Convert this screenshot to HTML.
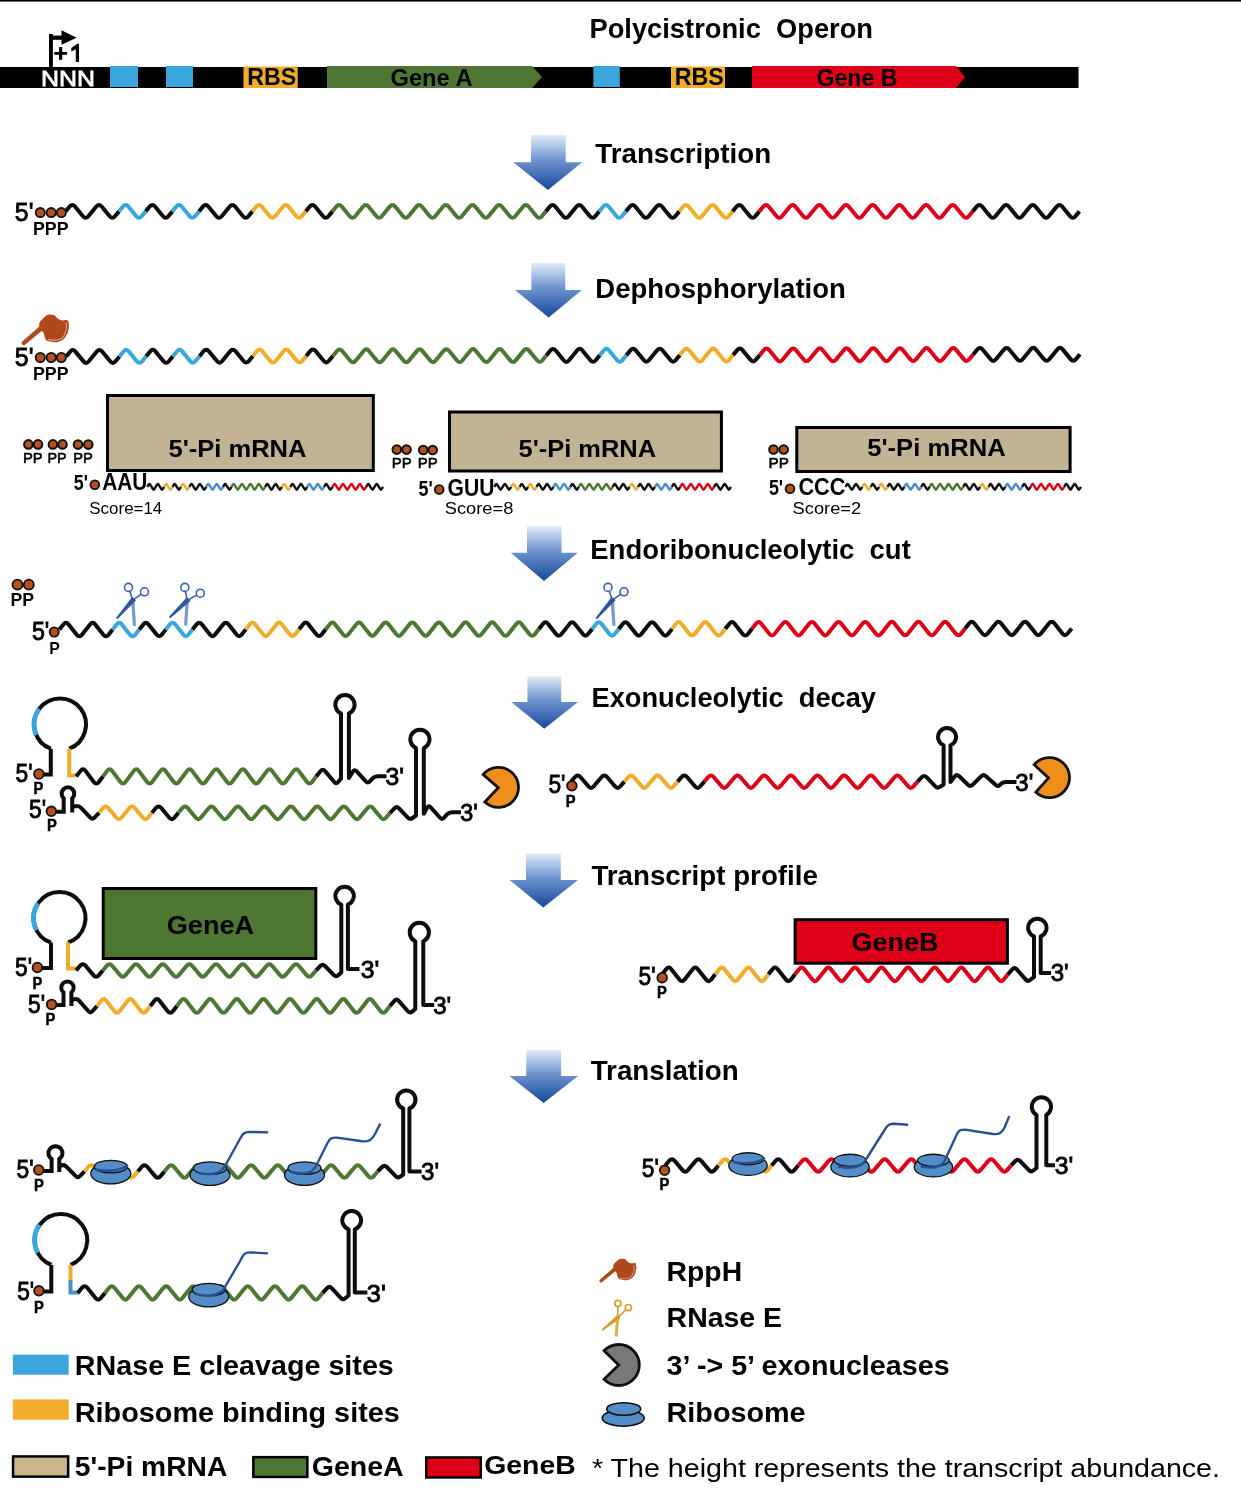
<!DOCTYPE html><html><head><meta charset="utf-8"><style>html,body{margin:0;padding:0;background:#fff;width:1241px;height:1500px;overflow:hidden;}svg{display:block;will-change:transform;}</style></head><body><svg width="1241" height="1500" viewBox="0 0 1241 1500"><defs><linearGradient id="ag" x1="0" y1="0" x2="0" y2="1"><stop offset="0" stop-color="#e2ecf9"/><stop offset="0.45" stop-color="#6f95cf"/><stop offset="1" stop-color="#15489a"/></linearGradient></defs><rect x="0" y="0" width="1241" height="1.6" fill="#000"/>
<text x="589.5" y="38.4" font-family='"Liberation Sans", sans-serif' font-size="27" font-weight="bold" fill="#000" textLength="283.5" lengthAdjust="spacingAndGlyphs" >Polycistronic&#160;&#160;Operon</text>
<rect x="0" y="67" width="1078.5" height="21" fill="#000" stroke="none" stroke-width="0"/>
<rect x="110" y="66" width="28" height="21" fill="#3aa6dc" stroke="none" stroke-width="0"/>
<rect x="166" y="66" width="27" height="21" fill="#3aa6dc" stroke="none" stroke-width="0"/>
<rect x="593.4" y="66" width="26.4" height="21" fill="#3aa6dc" stroke="none" stroke-width="0"/>
<rect x="243.5" y="66.5" width="54.2" height="21.5" fill="#f1ac2b" stroke="none" stroke-width="0"/>
<rect x="671" y="66.5" width="54" height="21.5" fill="#f1ac2b" stroke="none" stroke-width="0"/>
<path d="M327,66 L532,66 L542,77 L532,88 L327,88 Z" fill="#4e7733"/>
<path d="M752,66 L956,66 L965,77 L956,88 L752,88 Z" fill="#dd0017"/>
<text x="247.3" y="85.3" font-family='"Liberation Sans", sans-serif' font-size="23" font-weight="bold" fill="#000" textLength="49" lengthAdjust="spacingAndGlyphs" >RBS</text>
<text x="674.8" y="85.3" font-family='"Liberation Sans", sans-serif' font-size="23" font-weight="bold" fill="#000" textLength="49" lengthAdjust="spacingAndGlyphs" >RBS</text>
<text x="390.5" y="85.5" font-family='"Liberation Sans", sans-serif' font-size="23" font-weight="bold" fill="#000" textLength="82" lengthAdjust="spacingAndGlyphs" >Gene A</text>
<text x="816.5" y="85.5" font-family='"Liberation Sans", sans-serif' font-size="23" font-weight="bold" fill="#000" textLength="81" lengthAdjust="spacingAndGlyphs" >Gene B</text>
<text x="41" y="85.8" font-family='"Liberation Sans", sans-serif' font-size="22" font-weight="normal" fill="#fff" textLength="54" lengthAdjust="spacingAndGlyphs" stroke="#fff" stroke-width="0.8">NNN</text>
<rect x="49" y="34" width="3.9" height="33.5" fill="#000" stroke="none" stroke-width="0"/>
<rect x="49" y="35.6" width="13.5" height="4.2" fill="#000" stroke="none" stroke-width="0"/>
<path d="M61.5,30.3 L76.6,37.8 L61.5,44.8 Z" fill="#000"/>
<path d="M54.2,52.1 H59 V46.9 H62.3 V52.1 H67.1 V54.7 H62.3 V59.8 H59 V54.7 H54.2 Z" fill="#000"/>
<path d="M71.3,47.9 L77.4,43.7 L79,43.7 L79,62.1 L75.8,62.1 L75.8,49.2 L71.3,51.5 Z" fill="#000"/>
<path d="M531,135 L565.7,135 L565.7,162.3 L582.2,162.3 L547.9,190 L513.3,162.3 L531,162.3 Z" fill="url(#ag)"/>
<path d="M531.3,263 L565.3,263 L565.3,290 L581.8,290 L548.7,317.4 L515,290 L531.3,290 Z" fill="url(#ag)"/>
<path d="M527,526 L561.6,526 L561.6,552.8 L577.8,552.8 L544,581 L510.8,552.8 L527,552.8 Z" fill="url(#ag)"/>
<path d="M527.4,676.3 L561.2,676.3 L561.2,702 L578,702 L544.2,728.8 L511.3,702 L527.4,702 Z" fill="url(#ag)"/>
<path d="M526,853.2 L560.8,853.2 L560.8,880 L578,880 L543.3,907.5 L509.6,880 L526,880 Z" fill="url(#ag)"/>
<path d="M526.2,1049.8 L561.2,1049.8 L561.2,1076 L578.1,1076 L543.6,1102.9 L509.4,1076 L526.2,1076 Z" fill="url(#ag)"/>
<text x="595.2" y="163.4" font-family='"Liberation Sans", sans-serif' font-size="27.5" font-weight="bold" fill="#000" textLength="176" lengthAdjust="spacingAndGlyphs" >Transcription</text>
<text x="595.3" y="297.6" font-family='"Liberation Sans", sans-serif' font-size="27.5" font-weight="bold" fill="#000" textLength="250.5" lengthAdjust="spacingAndGlyphs" >Dephosphorylation</text>
<text x="590.3" y="559" font-family='"Liberation Sans", sans-serif' font-size="27.5" font-weight="bold" fill="#000" textLength="320.5" lengthAdjust="spacingAndGlyphs" >Endoribonucleolytic&#160;&#160;cut</text>
<text x="591.5" y="706.8" font-family='"Liberation Sans", sans-serif' font-size="27.5" font-weight="bold" fill="#000" textLength="284.5" lengthAdjust="spacingAndGlyphs" >Exonucleolytic&#160;&#160;decay</text>
<text x="591.4" y="884.6" font-family='"Liberation Sans", sans-serif' font-size="27.5" font-weight="bold" fill="#000" textLength="226.5" lengthAdjust="spacingAndGlyphs" >Transcript profile</text>
<text x="590.7" y="1080.3" font-family='"Liberation Sans", sans-serif' font-size="27.5" font-weight="bold" fill="#000" textLength="148" lengthAdjust="spacingAndGlyphs" >Translation</text>
<path d="M65.63,211.4 L69.62,206.59 Q72.3,203.36 74.98,206.59 L82.96,216.21 Q85.64,219.44 88.32,216.21 L96.3,206.59 Q98.98,203.36 101.66,206.59 L109.64,216.21 Q112.32,219.44 115,216.21 L118.99,211.4" fill="none" stroke="#0d0d0d" stroke-width="4" stroke-linecap="butt" stroke-linejoin="round"/>
<path d="M118.99,211.4 L122.98,206.59 Q125.66,203.36 128.34,206.59 L136.32,216.21 Q139,219.44 141.68,216.21 L145.67,211.4" fill="none" stroke="#3aa6dc" stroke-width="4" stroke-linecap="butt" stroke-linejoin="round"/>
<path d="M145.67,211.4 L149.66,206.59 Q152.34,203.36 155.02,206.59 L163,216.21 Q165.68,219.44 168.36,216.21 L172.35,211.4" fill="none" stroke="#0d0d0d" stroke-width="4" stroke-linecap="butt" stroke-linejoin="round"/>
<path d="M172.35,211.4 L176.34,206.59 Q179.02,203.36 181.7,206.59 L189.68,216.21 Q192.36,219.44 195.04,216.21 L199.03,211.4" fill="none" stroke="#3aa6dc" stroke-width="4" stroke-linecap="butt" stroke-linejoin="round"/>
<path d="M199.03,211.4 L203.02,206.59 Q205.7,203.36 208.38,206.59 L216.36,216.21 Q219.04,219.44 221.72,216.21 L229.7,206.59 Q232.38,203.36 235.06,206.59 L243.04,216.21 Q245.72,219.44 248.4,216.21 L252.39,211.4" fill="none" stroke="#0d0d0d" stroke-width="4" stroke-linecap="butt" stroke-linejoin="round"/>
<path d="M252.39,211.4 L256.38,206.59 Q259.06,203.36 261.74,206.59 L269.72,216.21 Q272.4,219.44 275.08,216.21 L283.06,206.59 Q285.74,203.36 288.42,206.59 L296.4,216.21 Q299.08,219.44 301.76,216.21 L305.75,211.4" fill="none" stroke="#f1ac2b" stroke-width="4" stroke-linecap="butt" stroke-linejoin="round"/>
<path d="M305.75,211.4 L309.74,206.59 Q312.42,203.36 315.1,206.59 L323.08,216.21 Q325.76,219.44 328.44,216.21 L332.43,211.4" fill="none" stroke="#0d0d0d" stroke-width="4" stroke-linecap="butt" stroke-linejoin="round"/>
<path d="M332.43,211.4 L336.42,206.59 Q339.1,203.36 341.78,206.59 L349.76,216.21 Q352.44,219.44 355.12,216.21 L363.1,206.59 Q365.78,203.36 368.46,206.59 L376.44,216.21 Q379.12,219.44 381.8,216.21 L389.78,206.59 Q392.46,203.36 395.14,206.59 L403.12,216.21 Q405.8,219.44 408.48,216.21 L416.46,206.59 Q419.14,203.36 421.82,206.59 L429.8,216.21 Q432.48,219.44 435.16,216.21 L443.14,206.59 Q445.82,203.36 448.5,206.59 L456.48,216.21 Q459.16,219.44 461.84,216.21 L469.82,206.59 Q472.5,203.36 475.18,206.59 L483.16,216.21 Q485.84,219.44 488.52,216.21 L496.5,206.59 Q499.18,203.36 501.86,206.59 L509.84,216.21 Q512.52,219.44 515.2,216.21 L523.18,206.59 Q525.86,203.36 528.54,206.59 L536.52,216.21 Q539.2,219.44 541.88,216.21 L545.87,211.4" fill="none" stroke="#4e7733" stroke-width="4" stroke-linecap="butt" stroke-linejoin="round"/>
<path d="M545.87,211.4 L549.86,206.59 Q552.54,203.36 555.22,206.59 L563.2,216.21 Q565.88,219.44 568.56,216.21 L576.54,206.59 Q579.22,203.36 581.9,206.59 L589.88,216.21 Q592.56,219.44 595.24,216.21 L599.23,211.4" fill="none" stroke="#0d0d0d" stroke-width="4" stroke-linecap="butt" stroke-linejoin="round"/>
<path d="M599.23,211.4 L603.22,206.59 Q605.9,203.36 608.58,206.59 L616.56,216.21 Q619.24,219.44 621.92,216.21 L625.91,211.4" fill="none" stroke="#3aa6dc" stroke-width="4" stroke-linecap="butt" stroke-linejoin="round"/>
<path d="M625.91,211.4 L629.9,206.59 Q632.58,203.36 635.26,206.59 L643.24,216.21 Q645.92,219.44 648.6,216.21 L656.58,206.59 Q659.26,203.36 661.94,206.59 L669.92,216.21 Q672.6,219.44 675.28,216.21 L679.27,211.4" fill="none" stroke="#0d0d0d" stroke-width="4" stroke-linecap="butt" stroke-linejoin="round"/>
<path d="M679.27,211.4 L683.26,206.59 Q685.94,203.36 688.62,206.59 L696.6,216.21 Q699.28,219.44 701.96,216.21 L709.94,206.59 Q712.62,203.36 715.3,206.59 L723.28,216.21 Q725.96,219.44 728.64,216.21 L732.63,211.4" fill="none" stroke="#f1ac2b" stroke-width="4" stroke-linecap="butt" stroke-linejoin="round"/>
<path d="M732.63,211.4 L736.62,206.59 Q739.3,203.36 741.98,206.59 L749.96,216.21 Q752.64,219.44 755.32,216.21 L759.31,211.4" fill="none" stroke="#0d0d0d" stroke-width="4" stroke-linecap="butt" stroke-linejoin="round"/>
<path d="M759.31,211.4 L763.3,206.59 Q765.98,203.36 768.66,206.59 L776.64,216.21 Q779.32,219.44 782,216.21 L789.98,206.59 Q792.66,203.36 795.34,206.59 L803.32,216.21 Q806,219.44 808.68,216.21 L816.66,206.59 Q819.34,203.36 822.02,206.59 L830,216.21 Q832.68,219.44 835.36,216.21 L843.34,206.59 Q846.02,203.36 848.7,206.59 L856.68,216.21 Q859.36,219.44 862.04,216.21 L870.02,206.59 Q872.7,203.36 875.38,206.59 L883.36,216.21 Q886.04,219.44 888.72,216.21 L896.7,206.59 Q899.38,203.36 902.06,206.59 L910.04,216.21 Q912.72,219.44 915.4,216.21 L923.38,206.59 Q926.06,203.36 928.74,206.59 L936.72,216.21 Q939.4,219.44 942.08,216.21 L950.06,206.59 Q952.74,203.36 955.42,206.59 L963.4,216.21 Q966.08,219.44 968.76,216.21 L972.75,211.4" fill="none" stroke="#dd0017" stroke-width="4" stroke-linecap="butt" stroke-linejoin="round"/>
<path d="M972.75,211.4 L976.74,206.59 Q979.42,203.36 982.1,206.59 L990.08,216.21 Q992.76,219.44 995.44,216.21 L1003.42,206.59 Q1006.1,203.36 1008.78,206.59 L1016.76,216.21 Q1019.44,219.44 1022.12,216.21 L1030.1,206.59 Q1032.78,203.36 1035.46,206.59 L1043.44,216.21 Q1046.12,219.44 1048.8,216.21 L1056.78,206.59 Q1059.46,203.36 1062.14,206.59 L1070.12,216.21 Q1072.8,219.44 1075.48,216.21 L1079.47,211.4" fill="none" stroke="#0d0d0d" stroke-width="4" stroke-linecap="butt" stroke-linejoin="round"/>
<text x="14.8" y="220.7" font-family='"Liberation Sans", sans-serif' font-size="25.5" font-weight="normal" fill="#000" textLength="18.6" lengthAdjust="spacingAndGlyphs" stroke="#000" stroke-width="0.85">5'</text>
<text x="33" y="235.1" font-family='"Liberation Sans", sans-serif' font-size="17.5" font-weight="bold" fill="#000" textLength="35.5" lengthAdjust="spacingAndGlyphs" >PPP</text>
<g transform="matrix(1,-0.00227,0,1,0,1.48)">
<path d="M66.13,355.2 L70.13,350.33 Q72.8,347.09 75.47,350.33 L83.47,360.07 Q86.14,363.31 88.81,360.07 L96.81,350.33 Q99.48,347.09 102.15,350.33 L110.15,360.07 Q112.82,363.31 115.49,360.07 L119.49,355.2" fill="none" stroke="#0d0d0d" stroke-width="4" stroke-linecap="butt" stroke-linejoin="round"/>
<path d="M119.49,355.2 L123.49,350.33 Q126.16,347.09 128.83,350.33 L136.83,360.07 Q139.5,363.31 142.17,360.07 L146.17,355.2" fill="none" stroke="#3aa6dc" stroke-width="4" stroke-linecap="butt" stroke-linejoin="round"/>
<path d="M146.17,355.2 L150.17,350.33 Q152.84,347.09 155.51,350.33 L163.51,360.07 Q166.18,363.31 168.85,360.07 L172.85,355.2" fill="none" stroke="#0d0d0d" stroke-width="4" stroke-linecap="butt" stroke-linejoin="round"/>
<path d="M172.85,355.2 L176.85,350.33 Q179.52,347.09 182.19,350.33 L190.19,360.07 Q192.86,363.31 195.53,360.07 L199.53,355.2" fill="none" stroke="#3aa6dc" stroke-width="4" stroke-linecap="butt" stroke-linejoin="round"/>
<path d="M199.53,355.2 L203.53,350.33 Q206.2,347.09 208.87,350.33 L216.87,360.07 Q219.54,363.31 222.21,360.07 L230.21,350.33 Q232.88,347.09 235.55,350.33 L243.55,360.07 Q246.22,363.31 248.89,360.07 L252.89,355.2" fill="none" stroke="#0d0d0d" stroke-width="4" stroke-linecap="butt" stroke-linejoin="round"/>
<path d="M252.89,355.2 L256.89,350.33 Q259.56,347.09 262.23,350.33 L270.23,360.07 Q272.9,363.31 275.57,360.07 L283.57,350.33 Q286.24,347.09 288.91,350.33 L296.91,360.07 Q299.58,363.31 302.25,360.07 L306.25,355.2" fill="none" stroke="#f1ac2b" stroke-width="4" stroke-linecap="butt" stroke-linejoin="round"/>
<path d="M306.25,355.2 L310.25,350.33 Q312.92,347.09 315.59,350.33 L323.59,360.07 Q326.26,363.31 328.93,360.07 L332.93,355.2" fill="none" stroke="#0d0d0d" stroke-width="4" stroke-linecap="butt" stroke-linejoin="round"/>
<path d="M332.93,355.2 L336.93,350.33 Q339.6,347.09 342.27,350.33 L350.27,360.07 Q352.94,363.31 355.61,360.07 L363.61,350.33 Q366.28,347.09 368.95,350.33 L376.95,360.07 Q379.62,363.31 382.29,360.07 L390.29,350.33 Q392.96,347.09 395.63,350.33 L403.63,360.07 Q406.3,363.31 408.97,360.07 L416.97,350.33 Q419.64,347.09 422.31,350.33 L430.31,360.07 Q432.98,363.31 435.65,360.07 L443.65,350.33 Q446.32,347.09 448.99,350.33 L456.99,360.07 Q459.66,363.31 462.33,360.07 L470.33,350.33 Q473,347.09 475.67,350.33 L483.67,360.07 Q486.34,363.31 489.01,360.07 L497.01,350.33 Q499.68,347.09 502.35,350.33 L510.35,360.07 Q513.02,363.31 515.69,360.07 L523.69,350.33 Q526.36,347.09 529.03,350.33 L537.03,360.07 Q539.7,363.31 542.37,360.07 L546.37,355.2" fill="none" stroke="#4e7733" stroke-width="4" stroke-linecap="butt" stroke-linejoin="round"/>
<path d="M546.37,355.2 L550.37,350.33 Q553.04,347.09 555.71,350.33 L563.71,360.07 Q566.38,363.31 569.05,360.07 L577.05,350.33 Q579.72,347.09 582.39,350.33 L590.39,360.07 Q593.06,363.31 595.73,360.07 L599.73,355.2" fill="none" stroke="#0d0d0d" stroke-width="4" stroke-linecap="butt" stroke-linejoin="round"/>
<path d="M599.73,355.2 L603.73,350.33 Q606.4,347.09 609.07,350.33 L617.07,360.07 Q619.74,363.31 622.41,360.07 L626.41,355.2" fill="none" stroke="#3aa6dc" stroke-width="4" stroke-linecap="butt" stroke-linejoin="round"/>
<path d="M626.41,355.2 L630.41,350.33 Q633.08,347.09 635.75,350.33 L643.75,360.07 Q646.42,363.31 649.09,360.07 L657.09,350.33 Q659.76,347.09 662.43,350.33 L670.43,360.07 Q673.1,363.31 675.77,360.07 L679.77,355.2" fill="none" stroke="#0d0d0d" stroke-width="4" stroke-linecap="butt" stroke-linejoin="round"/>
<path d="M679.77,355.2 L683.77,350.33 Q686.44,347.09 689.11,350.33 L697.11,360.07 Q699.78,363.31 702.45,360.07 L710.45,350.33 Q713.12,347.09 715.79,350.33 L723.79,360.07 Q726.46,363.31 729.13,360.07 L733.13,355.2" fill="none" stroke="#f1ac2b" stroke-width="4" stroke-linecap="butt" stroke-linejoin="round"/>
<path d="M733.13,355.2 L737.13,350.33 Q739.8,347.09 742.47,350.33 L750.47,360.07 Q753.14,363.31 755.81,360.07 L759.81,355.2" fill="none" stroke="#0d0d0d" stroke-width="4" stroke-linecap="butt" stroke-linejoin="round"/>
<path d="M759.81,355.2 L763.81,350.33 Q766.48,347.09 769.15,350.33 L777.15,360.07 Q779.82,363.31 782.49,360.07 L790.49,350.33 Q793.16,347.09 795.83,350.33 L803.83,360.07 Q806.5,363.31 809.17,360.07 L817.17,350.33 Q819.84,347.09 822.51,350.33 L830.51,360.07 Q833.18,363.31 835.85,360.07 L843.85,350.33 Q846.52,347.09 849.19,350.33 L857.19,360.07 Q859.86,363.31 862.53,360.07 L870.53,350.33 Q873.2,347.09 875.87,350.33 L883.87,360.07 Q886.54,363.31 889.21,360.07 L897.21,350.33 Q899.88,347.09 902.55,350.33 L910.55,360.07 Q913.22,363.31 915.89,360.07 L923.89,350.33 Q926.56,347.09 929.23,350.33 L937.23,360.07 Q939.9,363.31 942.57,360.07 L950.57,350.33 Q953.24,347.09 955.91,350.33 L963.91,360.07 Q966.58,363.31 969.25,360.07 L973.25,355.2" fill="none" stroke="#dd0017" stroke-width="4" stroke-linecap="butt" stroke-linejoin="round"/>
<path d="M973.25,355.2 L977.25,350.33 Q979.92,347.09 982.59,350.33 L990.59,360.07 Q993.26,363.31 995.93,360.07 L1003.93,350.33 Q1006.6,347.09 1009.27,350.33 L1017.27,360.07 Q1019.94,363.31 1022.61,360.07 L1030.61,350.33 Q1033.28,347.09 1035.95,350.33 L1043.95,360.07 Q1046.62,363.31 1049.29,360.07 L1057.29,350.33 Q1059.96,347.09 1062.63,350.33 L1070.63,360.07 Q1073.3,363.31 1075.97,360.07 L1079.97,355.2" fill="none" stroke="#0d0d0d" stroke-width="4" stroke-linecap="butt" stroke-linejoin="round"/>
</g>
<text x="14.8" y="366.4" font-family='"Liberation Sans", sans-serif' font-size="25.5" font-weight="normal" fill="#000" textLength="18.6" lengthAdjust="spacingAndGlyphs" stroke="#000" stroke-width="0.85">5'</text>
<text x="33" y="379.8" font-family='"Liberation Sans", sans-serif' font-size="17.5" font-weight="bold" fill="#000" textLength="35.5" lengthAdjust="spacingAndGlyphs" >PPP</text>
<rect x="107.5" y="395.5" width="265.8" height="75" fill="#c3b395" stroke="#000" stroke-width="3"/>
<text x="168.5" y="456.8" font-family='"Liberation Sans", sans-serif' font-size="24.5" font-weight="bold" fill="#000" textLength="138" lengthAdjust="spacingAndGlyphs" >5'-Pi mRNA</text>
<rect x="449.5" y="412" width="271.9" height="59" fill="#c3b395" stroke="#000" stroke-width="3"/>
<text x="518.6" y="456.6" font-family='"Liberation Sans", sans-serif' font-size="24.5" font-weight="bold" fill="#000" textLength="137.5" lengthAdjust="spacingAndGlyphs" >5'-Pi mRNA</text>
<rect x="796.8" y="427.5" width="273.3" height="44" fill="#c3b395" stroke="#000" stroke-width="3"/>
<text x="867.2" y="456.4" font-family='"Liberation Sans", sans-serif' font-size="24.5" font-weight="bold" fill="#000" textLength="138.5" lengthAdjust="spacingAndGlyphs" >5'-Pi mRNA</text>
<text x="22.9" y="462.8" font-family='"Liberation Sans", sans-serif' font-size="15.2" font-weight="normal" fill="#000" textLength="19.8" lengthAdjust="spacingAndGlyphs" stroke="#000" stroke-width="0.55">PP</text>
<text x="47.4" y="462.8" font-family='"Liberation Sans", sans-serif' font-size="15.2" font-weight="normal" fill="#000" textLength="19.2" lengthAdjust="spacingAndGlyphs" stroke="#000" stroke-width="0.55">PP</text>
<text x="73.2" y="462.8" font-family='"Liberation Sans", sans-serif' font-size="15.2" font-weight="normal" fill="#000" textLength="19.6" lengthAdjust="spacingAndGlyphs" stroke="#000" stroke-width="0.55">PP</text>
<text x="391.7" y="468" font-family='"Liberation Sans", sans-serif' font-size="15.2" font-weight="normal" fill="#000" textLength="19.9" lengthAdjust="spacingAndGlyphs" stroke="#000" stroke-width="0.55">PP</text>
<text x="417.7" y="468" font-family='"Liberation Sans", sans-serif' font-size="15.2" font-weight="normal" fill="#000" textLength="19.9" lengthAdjust="spacingAndGlyphs" stroke="#000" stroke-width="0.55">PP</text>
<text x="768.6" y="467.9" font-family='"Liberation Sans", sans-serif' font-size="15.2" font-weight="normal" fill="#000" textLength="20.3" lengthAdjust="spacingAndGlyphs" stroke="#000" stroke-width="0.55">PP</text>
<text x="73.8" y="489.6" font-family='"Liberation Sans", sans-serif' font-size="22" font-weight="bold" fill="#000" textLength="14.2" lengthAdjust="spacingAndGlyphs" >5'</text>
<text x="102.2" y="489.7" font-family='"Liberation Sans", sans-serif' font-size="23" font-weight="bold" fill="#000" textLength="45.2" lengthAdjust="spacingAndGlyphs" >AAU</text>
<path d="M147.3,486.8 L148.77,484.42 Q149.4,483.4 150.04,484.42 L152.98,489.18 Q153.61,490.2 154.24,489.18 L157.19,484.42 Q157.82,483.4 158.45,484.42 L161.4,489.18 Q162.03,490.2 162.66,489.18 L164.14,486.8" fill="none" stroke="#0d0d0d" stroke-width="2.4" stroke-linecap="butt" stroke-linejoin="round"/>
<path d="M164.14,486.8 L165.61,484.42 Q166.24,483.4 166.87,484.42 L169.82,489.18 Q170.45,490.2 171.08,489.18 L172.55,486.8" fill="none" stroke="#f1ac2b" stroke-width="2.4" stroke-linecap="butt" stroke-linejoin="round"/>
<path d="M172.55,486.8 L174.03,484.42 Q174.66,483.4 175.29,484.42 L178.24,489.18 Q178.87,490.2 179.5,489.18 L180.97,486.8" fill="none" stroke="#0d0d0d" stroke-width="2.4" stroke-linecap="butt" stroke-linejoin="round"/>
<path d="M180.97,486.8 L182.44,484.42 Q183.08,483.4 183.71,484.42 L186.65,489.18 Q187.28,490.2 187.92,489.18 L189.39,486.8" fill="none" stroke="#f1ac2b" stroke-width="2.4" stroke-linecap="butt" stroke-linejoin="round"/>
<path d="M189.39,486.8 L190.86,484.42 Q191.49,483.4 192.13,484.42 L195.07,489.18 Q195.7,490.2 196.33,489.18 L199.28,484.42 Q199.91,483.4 200.54,484.42 L203.49,489.18 Q204.12,490.2 204.75,489.18 L206.23,486.8" fill="none" stroke="#0d0d0d" stroke-width="2.4" stroke-linecap="butt" stroke-linejoin="round"/>
<path d="M206.23,486.8 L207.7,484.42 Q208.33,483.4 208.96,484.42 L211.91,489.18 Q212.54,490.2 213.17,489.18 L216.12,484.42 Q216.75,483.4 217.38,484.42 L220.32,489.18 Q220.96,490.2 221.59,489.18 L223.06,486.8" fill="none" stroke="#4a8ccc" stroke-width="2.4" stroke-linecap="butt" stroke-linejoin="round"/>
<path d="M223.06,486.8 L224.53,484.42 Q225.17,483.4 225.8,484.42 L228.74,489.18 Q229.37,490.2 230.01,489.18 L231.48,486.8" fill="none" stroke="#0d0d0d" stroke-width="2.4" stroke-linecap="butt" stroke-linejoin="round"/>
<path d="M231.48,486.8 L232.95,484.42 Q233.58,483.4 234.21,484.42 L237.16,489.18 Q237.79,490.2 238.42,489.18 L241.37,484.42 Q242,483.4 242.63,484.42 L245.58,489.18 Q246.21,490.2 246.84,489.18 L249.79,484.42 Q250.42,483.4 251.05,484.42 L254,489.18 Q254.63,490.2 255.26,489.18 L258.21,484.42 Q258.84,483.4 259.47,484.42 L262.41,489.18 Q263.05,490.2 263.68,489.18 L265.15,486.8" fill="none" stroke="#4e7733" stroke-width="2.4" stroke-linecap="butt" stroke-linejoin="round"/>
<path d="M265.15,486.8 L266.62,484.42 Q267.25,483.4 267.89,484.42 L270.83,489.18 Q271.46,490.2 272.09,489.18 L275.04,484.42 Q275.67,483.4 276.3,484.42 L279.25,489.18 Q279.88,490.2 280.51,489.18 L281.99,486.8" fill="none" stroke="#0d0d0d" stroke-width="2.4" stroke-linecap="butt" stroke-linejoin="round"/>
<path d="M281.99,486.8 L283.46,484.42 Q284.09,483.4 284.72,484.42 L287.67,489.18 Q288.3,490.2 288.93,489.18 L290.4,486.8" fill="none" stroke="#f1ac2b" stroke-width="2.4" stroke-linecap="butt" stroke-linejoin="round"/>
<path d="M290.4,486.8 L291.88,484.42 Q292.51,483.4 293.14,484.42 L296.09,489.18 Q296.72,490.2 297.35,489.18 L300.29,484.42 Q300.93,483.4 301.56,484.42 L304.5,489.18 Q305.13,490.2 305.77,489.18 L307.24,486.8" fill="none" stroke="#0d0d0d" stroke-width="2.4" stroke-linecap="butt" stroke-linejoin="round"/>
<path d="M307.24,486.8 L308.71,484.42 Q309.34,483.4 309.98,484.42 L312.92,489.18 Q313.55,490.2 314.18,489.18 L317.13,484.42 Q317.76,483.4 318.39,484.42 L321.34,489.18 Q321.97,490.2 322.6,489.18 L324.08,486.8" fill="none" stroke="#4a8ccc" stroke-width="2.4" stroke-linecap="butt" stroke-linejoin="round"/>
<path d="M324.08,486.8 L325.55,484.42 Q326.18,483.4 326.81,484.42 L329.76,489.18 Q330.39,490.2 331.02,489.18 L332.49,486.8" fill="none" stroke="#0d0d0d" stroke-width="2.4" stroke-linecap="butt" stroke-linejoin="round"/>
<path d="M332.49,486.8 L333.97,484.42 Q334.6,483.4 335.23,484.42 L338.17,489.18 Q338.81,490.2 339.44,489.18 L342.38,484.42 Q343.02,483.4 343.65,484.42 L346.59,489.18 Q347.22,490.2 347.86,489.18 L350.8,484.42 Q351.43,483.4 352.06,484.42 L355.01,489.18 Q355.64,490.2 356.27,489.18 L359.22,484.42 Q359.85,483.4 360.48,484.42 L363.43,489.18 Q364.06,490.2 364.69,489.18 L366.16,486.8" fill="none" stroke="#dd0017" stroke-width="2.4" stroke-linecap="butt" stroke-linejoin="round"/>
<path d="M366.16,486.8 L367.64,484.42 Q368.27,483.4 368.9,484.42 L371.85,489.18 Q372.48,490.2 373.11,489.18 L376.06,484.42 Q376.69,483.4 377.32,484.42 L380.26,489.18 Q380.9,490.2 381.53,489.18 L383,486.8" fill="none" stroke="#0d0d0d" stroke-width="2.4" stroke-linecap="butt" stroke-linejoin="round"/>
<text x="89.3" y="513.9" font-family='"Liberation Sans", sans-serif' font-size="17.2" font-weight="normal" fill="#000" textLength="73" lengthAdjust="spacingAndGlyphs" >Score=14</text>
<text x="418.5" y="495.6" font-family='"Liberation Sans", sans-serif' font-size="22" font-weight="bold" fill="#000" textLength="14.2" lengthAdjust="spacingAndGlyphs" >5'</text>
<text x="447.6" y="495.7" font-family='"Liberation Sans", sans-serif' font-size="23" font-weight="bold" fill="#000" textLength="47" lengthAdjust="spacingAndGlyphs" >GUU</text>
<path d="M494.3,486.8 L495.78,484.42 Q496.41,483.4 497.05,484.42 L500.01,489.18 Q500.64,490.2 501.27,489.18 L504.23,484.42 Q504.87,483.4 505.5,484.42 L508.46,489.18 Q509.09,490.2 509.73,489.18 L511.21,486.8" fill="none" stroke="#0d0d0d" stroke-width="2.4" stroke-linecap="butt" stroke-linejoin="round"/>
<path d="M511.21,486.8 L512.69,484.42 Q513.32,483.4 513.95,484.42 L516.91,489.18 Q517.55,490.2 518.18,489.18 L519.66,486.8" fill="none" stroke="#f1ac2b" stroke-width="2.4" stroke-linecap="butt" stroke-linejoin="round"/>
<path d="M519.66,486.8 L521.14,484.42 Q521.77,483.4 522.41,484.42 L525.37,489.18 Q526,490.2 526.63,489.18 L528.11,486.8" fill="none" stroke="#0d0d0d" stroke-width="2.4" stroke-linecap="butt" stroke-linejoin="round"/>
<path d="M528.11,486.8 L529.59,484.42 Q530.23,483.4 530.86,484.42 L533.82,489.18 Q534.45,490.2 535.09,489.18 L536.57,486.8" fill="none" stroke="#f1ac2b" stroke-width="2.4" stroke-linecap="butt" stroke-linejoin="round"/>
<path d="M536.57,486.8 L538.05,484.42 Q538.68,483.4 539.31,484.42 L542.27,489.18 Q542.91,490.2 543.54,489.18 L546.5,484.42 Q547.13,483.4 547.77,484.42 L550.73,489.18 Q551.36,490.2 552,489.18 L553.48,486.8" fill="none" stroke="#0d0d0d" stroke-width="2.4" stroke-linecap="butt" stroke-linejoin="round"/>
<path d="M553.48,486.8 L554.95,484.42 Q555.59,483.4 556.22,484.42 L559.18,489.18 Q559.82,490.2 560.45,489.18 L563.41,484.42 Q564.04,483.4 564.68,484.42 L567.64,489.18 Q568.27,490.2 568.9,489.18 L570.38,486.8" fill="none" stroke="#4a8ccc" stroke-width="2.4" stroke-linecap="butt" stroke-linejoin="round"/>
<path d="M570.38,486.8 L571.86,484.42 Q572.5,483.4 573.13,484.42 L576.09,489.18 Q576.72,490.2 577.36,489.18 L578.84,486.8" fill="none" stroke="#0d0d0d" stroke-width="2.4" stroke-linecap="butt" stroke-linejoin="round"/>
<path d="M578.84,486.8 L580.32,484.42 Q580.95,483.4 581.58,484.42 L584.54,489.18 Q585.18,490.2 585.81,489.18 L588.77,484.42 Q589.4,483.4 590.04,484.42 L593,489.18 Q593.63,490.2 594.26,489.18 L597.22,484.42 Q597.86,483.4 598.49,484.42 L601.45,489.18 Q602.08,490.2 602.72,489.18 L605.68,484.42 Q606.31,483.4 606.94,484.42 L609.9,489.18 Q610.54,490.2 611.17,489.18 L612.65,486.8" fill="none" stroke="#4e7733" stroke-width="2.4" stroke-linecap="butt" stroke-linejoin="round"/>
<path d="M612.65,486.8 L614.13,484.42 Q614.76,483.4 615.4,484.42 L618.36,489.18 Q618.99,490.2 619.62,489.18 L622.58,484.42 Q623.22,483.4 623.85,484.42 L626.81,489.18 Q627.44,490.2 628.08,489.18 L629.56,486.8" fill="none" stroke="#0d0d0d" stroke-width="2.4" stroke-linecap="butt" stroke-linejoin="round"/>
<path d="M629.56,486.8 L631.04,484.42 Q631.67,483.4 632.3,484.42 L635.26,489.18 Q635.9,490.2 636.53,489.18 L638.01,486.8" fill="none" stroke="#f1ac2b" stroke-width="2.4" stroke-linecap="butt" stroke-linejoin="round"/>
<path d="M638.01,486.8 L639.49,484.42 Q640.12,483.4 640.76,484.42 L643.72,489.18 Q644.35,490.2 644.98,489.18 L647.94,484.42 Q648.58,483.4 649.21,484.42 L652.17,489.18 Q652.8,490.2 653.44,489.18 L654.92,486.8" fill="none" stroke="#0d0d0d" stroke-width="2.4" stroke-linecap="butt" stroke-linejoin="round"/>
<path d="M654.92,486.8 L656.4,484.42 Q657.03,483.4 657.66,484.42 L660.62,489.18 Q661.26,490.2 661.89,489.18 L664.85,484.42 Q665.48,483.4 666.12,484.42 L669.08,489.18 Q669.71,490.2 670.35,489.18 L671.83,486.8" fill="none" stroke="#4a8ccc" stroke-width="2.4" stroke-linecap="butt" stroke-linejoin="round"/>
<path d="M671.83,486.8 L673.3,484.42 Q673.94,483.4 674.57,484.42 L677.53,489.18 Q678.17,490.2 678.8,489.18 L680.28,486.8" fill="none" stroke="#0d0d0d" stroke-width="2.4" stroke-linecap="butt" stroke-linejoin="round"/>
<path d="M680.28,486.8 L681.76,484.42 Q682.39,483.4 683.03,484.42 L685.99,489.18 Q686.62,490.2 687.25,489.18 L690.21,484.42 Q690.85,483.4 691.48,484.42 L694.44,489.18 Q695.07,490.2 695.71,489.18 L698.67,484.42 Q699.3,483.4 699.93,484.42 L702.89,489.18 Q703.53,490.2 704.16,489.18 L707.12,484.42 Q707.75,483.4 708.39,484.42 L711.35,489.18 Q711.98,490.2 712.61,489.18 L714.09,486.8" fill="none" stroke="#dd0017" stroke-width="2.4" stroke-linecap="butt" stroke-linejoin="round"/>
<path d="M714.09,486.8 L715.57,484.42 Q716.21,483.4 716.84,484.42 L719.8,489.18 Q720.43,490.2 721.07,489.18 L724.03,484.42 Q724.66,483.4 725.29,484.42 L728.25,489.18 Q728.89,490.2 729.52,489.18 L731,486.8" fill="none" stroke="#0d0d0d" stroke-width="2.4" stroke-linecap="butt" stroke-linejoin="round"/>
<text x="444.8" y="513.9" font-family='"Liberation Sans", sans-serif' font-size="17.2" font-weight="normal" fill="#000" textLength="68.5" lengthAdjust="spacingAndGlyphs" >Score=8</text>
<text x="768.9" y="495" font-family='"Liberation Sans", sans-serif' font-size="22" font-weight="bold" fill="#000" textLength="14.2" lengthAdjust="spacingAndGlyphs" >5'</text>
<text x="798.4" y="495.1" font-family='"Liberation Sans", sans-serif' font-size="23" font-weight="bold" fill="#000" textLength="47" lengthAdjust="spacingAndGlyphs" >CCC</text>
<path d="M845.5,486.8 L846.97,484.42 Q847.6,483.4 848.23,484.42 L851.18,489.18 Q851.81,490.2 852.44,489.18 L855.38,484.42 Q856.01,483.4 856.64,484.42 L859.59,489.18 Q860.22,490.2 860.85,489.18 L862.32,486.8" fill="none" stroke="#0d0d0d" stroke-width="2.4" stroke-linecap="butt" stroke-linejoin="round"/>
<path d="M862.32,486.8 L863.79,484.42 Q864.42,483.4 865.06,484.42 L868,489.18 Q868.63,490.2 869.26,489.18 L870.73,486.8" fill="none" stroke="#f1ac2b" stroke-width="2.4" stroke-linecap="butt" stroke-linejoin="round"/>
<path d="M870.73,486.8 L872.2,484.42 Q872.83,483.4 873.47,484.42 L876.41,489.18 Q877.04,490.2 877.67,489.18 L879.14,486.8" fill="none" stroke="#0d0d0d" stroke-width="2.4" stroke-linecap="butt" stroke-linejoin="round"/>
<path d="M879.14,486.8 L880.61,484.42 Q881.25,483.4 881.88,484.42 L884.82,489.18 Q885.45,490.2 886.08,489.18 L887.55,486.8" fill="none" stroke="#f1ac2b" stroke-width="2.4" stroke-linecap="butt" stroke-linejoin="round"/>
<path d="M887.55,486.8 L889.03,484.42 Q889.66,483.4 890.29,484.42 L893.23,489.18 Q893.86,490.2 894.49,489.18 L897.44,484.42 Q898.07,483.4 898.7,484.42 L901.64,489.18 Q902.27,490.2 902.9,489.18 L904.38,486.8" fill="none" stroke="#0d0d0d" stroke-width="2.4" stroke-linecap="butt" stroke-linejoin="round"/>
<path d="M904.38,486.8 L905.85,484.42 Q906.48,483.4 907.11,484.42 L910.05,489.18 Q910.68,490.2 911.31,489.18 L914.26,484.42 Q914.89,483.4 915.52,484.42 L918.46,489.18 Q919.09,490.2 919.72,489.18 L921.2,486.8" fill="none" stroke="#4a8ccc" stroke-width="2.4" stroke-linecap="butt" stroke-linejoin="round"/>
<path d="M921.2,486.8 L922.67,484.42 Q923.3,483.4 923.93,484.42 L926.87,489.18 Q927.5,490.2 928.14,489.18 L929.61,486.8" fill="none" stroke="#0d0d0d" stroke-width="2.4" stroke-linecap="butt" stroke-linejoin="round"/>
<path d="M929.61,486.8 L931.08,484.42 Q931.71,483.4 932.34,484.42 L935.28,489.18 Q935.92,490.2 936.55,489.18 L939.49,484.42 Q940.12,483.4 940.75,484.42 L943.69,489.18 Q944.33,490.2 944.96,489.18 L947.9,484.42 Q948.53,483.4 949.16,484.42 L952.11,489.18 Q952.74,490.2 953.37,489.18 L956.31,484.42 Q956.94,483.4 957.57,484.42 L960.52,489.18 Q961.15,490.2 961.78,489.18 L963.25,486.8" fill="none" stroke="#4e7733" stroke-width="2.4" stroke-linecap="butt" stroke-linejoin="round"/>
<path d="M963.25,486.8 L964.72,484.42 Q965.35,483.4 965.98,484.42 L968.93,489.18 Q969.56,490.2 970.19,489.18 L973.13,484.42 Q973.76,483.4 974.39,484.42 L977.34,489.18 Q977.97,490.2 978.6,489.18 L980.07,486.8" fill="none" stroke="#0d0d0d" stroke-width="2.4" stroke-linecap="butt" stroke-linejoin="round"/>
<path d="M980.07,486.8 L981.54,484.42 Q982.17,483.4 982.81,484.42 L985.75,489.18 Q986.38,490.2 987.01,489.18 L988.48,486.8" fill="none" stroke="#f1ac2b" stroke-width="2.4" stroke-linecap="butt" stroke-linejoin="round"/>
<path d="M988.48,486.8 L989.95,484.42 Q990.58,483.4 991.22,484.42 L994.16,489.18 Q994.79,490.2 995.42,489.18 L998.36,484.42 Q999,483.4 999.63,484.42 L1002.57,489.18 Q1003.2,490.2 1003.83,489.18 L1005.3,486.8" fill="none" stroke="#0d0d0d" stroke-width="2.4" stroke-linecap="butt" stroke-linejoin="round"/>
<path d="M1005.3,486.8 L1006.78,484.42 Q1007.41,483.4 1008.04,484.42 L1010.98,489.18 Q1011.61,490.2 1012.24,489.18 L1015.19,484.42 Q1015.82,483.4 1016.45,484.42 L1019.39,489.18 Q1020.02,490.2 1020.65,489.18 L1022.12,486.8" fill="none" stroke="#4a8ccc" stroke-width="2.4" stroke-linecap="butt" stroke-linejoin="round"/>
<path d="M1022.12,486.8 L1023.6,484.42 Q1024.23,483.4 1024.86,484.42 L1027.8,489.18 Q1028.43,490.2 1029.06,489.18 L1030.54,486.8" fill="none" stroke="#0d0d0d" stroke-width="2.4" stroke-linecap="butt" stroke-linejoin="round"/>
<path d="M1030.54,486.8 L1032.01,484.42 Q1032.64,483.4 1033.27,484.42 L1036.21,489.18 Q1036.84,490.2 1037.47,489.18 L1040.42,484.42 Q1041.05,483.4 1041.68,484.42 L1044.62,489.18 Q1045.25,490.2 1045.89,489.18 L1048.83,484.42 Q1049.46,483.4 1050.09,484.42 L1053.03,489.18 Q1053.67,490.2 1054.3,489.18 L1057.24,484.42 Q1057.87,483.4 1058.5,484.42 L1061.44,489.18 Q1062.08,490.2 1062.71,489.18 L1064.18,486.8" fill="none" stroke="#dd0017" stroke-width="2.4" stroke-linecap="butt" stroke-linejoin="round"/>
<path d="M1064.18,486.8 L1065.65,484.42 Q1066.28,483.4 1066.91,484.42 L1069.86,489.18 Q1070.49,490.2 1071.12,489.18 L1074.06,484.42 Q1074.69,483.4 1075.32,484.42 L1078.27,489.18 Q1078.9,490.2 1079.53,489.18 L1081,486.8" fill="none" stroke="#0d0d0d" stroke-width="2.4" stroke-linecap="butt" stroke-linejoin="round"/>
<text x="792.6" y="513.9" font-family='"Liberation Sans", sans-serif' font-size="17.2" font-weight="normal" fill="#000" textLength="68.5" lengthAdjust="spacingAndGlyphs" >Score=2</text>
<g transform="matrix(1,-0.0012,0,1,0,0.78)">
<path d="M59.34,628.9 L63.39,623.78 Q66,620.49 68.61,623.78 L76.71,634.02 Q79.32,637.31 81.93,634.02 L90.03,623.78 Q92.64,620.49 95.25,623.78 L103.35,634.02 Q105.96,637.31 108.57,634.02 L112.62,628.9" fill="none" stroke="#0d0d0d" stroke-width="4" stroke-linecap="butt" stroke-linejoin="round"/>
<path d="M112.62,628.9 L116.67,623.78 Q119.28,620.49 121.89,623.78 L129.99,634.02 Q132.6,637.31 135.21,634.02 L139.26,628.9" fill="none" stroke="#3aa6dc" stroke-width="4" stroke-linecap="butt" stroke-linejoin="round"/>
<path d="M139.26,628.9 L143.31,623.78 Q145.92,620.49 148.53,623.78 L156.63,634.02 Q159.24,637.31 161.85,634.02 L165.9,628.9" fill="none" stroke="#0d0d0d" stroke-width="4" stroke-linecap="butt" stroke-linejoin="round"/>
<path d="M165.9,628.9 L169.95,623.78 Q172.56,620.49 175.17,623.78 L183.27,634.02 Q185.88,637.31 188.49,634.02 L192.54,628.9" fill="none" stroke="#3aa6dc" stroke-width="4" stroke-linecap="butt" stroke-linejoin="round"/>
<path d="M192.54,628.9 L196.59,623.78 Q199.2,620.49 201.81,623.78 L209.91,634.02 Q212.52,637.31 215.13,634.02 L223.23,623.78 Q225.84,620.49 228.45,623.78 L236.55,634.02 Q239.16,637.31 241.77,634.02 L245.82,628.9" fill="none" stroke="#0d0d0d" stroke-width="4" stroke-linecap="butt" stroke-linejoin="round"/>
<path d="M245.82,628.9 L249.87,623.78 Q252.48,620.49 255.09,623.78 L263.19,634.02 Q265.8,637.31 268.41,634.02 L276.51,623.78 Q279.12,620.49 281.73,623.78 L289.83,634.02 Q292.44,637.31 295.05,634.02 L299.1,628.9" fill="none" stroke="#f1ac2b" stroke-width="4" stroke-linecap="butt" stroke-linejoin="round"/>
<path d="M299.1,628.9 L303.15,623.78 Q305.76,620.49 308.37,623.78 L316.47,634.02 Q319.08,637.31 321.69,634.02 L325.74,628.9" fill="none" stroke="#0d0d0d" stroke-width="4" stroke-linecap="butt" stroke-linejoin="round"/>
<path d="M325.74,628.9 L329.79,623.78 Q332.4,620.49 335.01,623.78 L343.11,634.02 Q345.72,637.31 348.33,634.02 L356.43,623.78 Q359.04,620.49 361.65,623.78 L369.75,634.02 Q372.36,637.31 374.97,634.02 L383.07,623.78 Q385.68,620.49 388.29,623.78 L396.39,634.02 Q399,637.31 401.61,634.02 L409.71,623.78 Q412.32,620.49 414.93,623.78 L423.03,634.02 Q425.64,637.31 428.25,634.02 L436.35,623.78 Q438.96,620.49 441.57,623.78 L449.67,634.02 Q452.28,637.31 454.89,634.02 L462.99,623.78 Q465.6,620.49 468.21,623.78 L476.31,634.02 Q478.92,637.31 481.53,634.02 L489.63,623.78 Q492.24,620.49 494.85,623.78 L502.95,634.02 Q505.56,637.31 508.17,634.02 L516.27,623.78 Q518.88,620.49 521.49,623.78 L529.59,634.02 Q532.2,637.31 534.81,634.02 L538.86,628.9" fill="none" stroke="#4e7733" stroke-width="4" stroke-linecap="butt" stroke-linejoin="round"/>
<path d="M538.86,628.9 L542.91,623.78 Q545.52,620.49 548.13,623.78 L556.23,634.02 Q558.84,637.31 561.45,634.02 L569.55,623.78 Q572.16,620.49 574.77,623.78 L582.87,634.02 Q585.48,637.31 588.09,634.02 L592.14,628.9" fill="none" stroke="#0d0d0d" stroke-width="4" stroke-linecap="butt" stroke-linejoin="round"/>
<path d="M592.14,628.9 L596.19,623.78 Q598.8,620.49 601.41,623.78 L609.51,634.02 Q612.12,637.31 614.73,634.02 L618.78,628.9" fill="none" stroke="#3aa6dc" stroke-width="4" stroke-linecap="butt" stroke-linejoin="round"/>
<path d="M618.78,628.9 L622.83,623.78 Q625.44,620.49 628.05,623.78 L636.15,634.02 Q638.76,637.31 641.37,634.02 L649.47,623.78 Q652.08,620.49 654.69,623.78 L662.79,634.02 Q665.4,637.31 668.01,634.02 L672.06,628.9" fill="none" stroke="#0d0d0d" stroke-width="4" stroke-linecap="butt" stroke-linejoin="round"/>
<path d="M672.06,628.9 L676.11,623.78 Q678.72,620.49 681.33,623.78 L689.43,634.02 Q692.04,637.31 694.65,634.02 L702.75,623.78 Q705.36,620.49 707.97,623.78 L716.07,634.02 Q718.68,637.31 721.29,634.02 L725.34,628.9" fill="none" stroke="#f1ac2b" stroke-width="4" stroke-linecap="butt" stroke-linejoin="round"/>
<path d="M725.34,628.9 L729.39,623.78 Q732,620.49 734.61,623.78 L742.71,634.02 Q745.32,637.31 747.93,634.02 L751.98,628.9" fill="none" stroke="#0d0d0d" stroke-width="4" stroke-linecap="butt" stroke-linejoin="round"/>
<path d="M751.98,628.9 L756.03,623.78 Q758.64,620.49 761.25,623.78 L769.35,634.02 Q771.96,637.31 774.57,634.02 L782.67,623.78 Q785.28,620.49 787.89,623.78 L795.99,634.02 Q798.6,637.31 801.21,634.02 L809.31,623.78 Q811.92,620.49 814.53,623.78 L822.63,634.02 Q825.24,637.31 827.85,634.02 L835.95,623.78 Q838.56,620.49 841.17,623.78 L849.27,634.02 Q851.88,637.31 854.49,634.02 L862.59,623.78 Q865.2,620.49 867.81,623.78 L875.91,634.02 Q878.52,637.31 881.13,634.02 L889.23,623.78 Q891.84,620.49 894.45,623.78 L902.55,634.02 Q905.16,637.31 907.77,634.02 L915.87,623.78 Q918.48,620.49 921.09,623.78 L929.19,634.02 Q931.8,637.31 934.41,634.02 L942.51,623.78 Q945.12,620.49 947.73,623.78 L955.83,634.02 Q958.44,637.31 961.05,634.02 L965.1,628.9" fill="none" stroke="#dd0017" stroke-width="4" stroke-linecap="butt" stroke-linejoin="round"/>
<path d="M965.1,628.9 L969.15,623.78 Q971.76,620.49 974.37,623.78 L982.47,634.02 Q985.08,637.31 987.69,634.02 L995.79,623.78 Q998.4,620.49 1001.01,623.78 L1009.11,634.02 Q1011.72,637.31 1014.33,634.02 L1022.43,623.78 Q1025.04,620.49 1027.65,623.78 L1035.75,634.02 Q1038.36,637.31 1040.97,634.02 L1049.07,623.78 Q1051.68,620.49 1054.29,623.78 L1062.39,634.02 Q1065,637.31 1067.61,634.02 L1071.66,628.9" fill="none" stroke="#0d0d0d" stroke-width="4" stroke-linecap="butt" stroke-linejoin="round"/>
</g>
<text x="10.4" y="605.5" font-family='"Liberation Sans", sans-serif' font-size="19" font-weight="bold" fill="#000" textLength="23.6" lengthAdjust="spacingAndGlyphs" >PP</text>
<text x="31.9" y="639.8" font-family='"Liberation Sans", sans-serif' font-size="25" font-weight="normal" fill="#000" textLength="17.4" lengthAdjust="spacingAndGlyphs" stroke="#000" stroke-width="0.85">5'</text>
<text x="49.3" y="653.5" font-family='"Liberation Sans", sans-serif' font-size="17" font-weight="bold" fill="#000" textLength="10.6" lengthAdjust="spacingAndGlyphs" >P</text>
<g><path d="M130.98,598.72 L132.95,625.9 L136.01,625.7 L134.38,598.49 Z" fill="#7b97cc"/><path d="M132.78,600.1 L129.76,591.19" stroke="#3a60ab" stroke-width="1.6" fill="none"/><circle cx="128.48" cy="587.4" r="4" fill="none" stroke="#3a60ab" stroke-width="1.6"/><path d="M132.78,600.1 L141.22,594.11" stroke="#3a60ab" stroke-width="1.6" fill="none"/><circle cx="144.48" cy="591.8" r="4" fill="none" stroke="#3a60ab" stroke-width="1.6"/><path d="M132.13,596.88 L116,618.01 L117.36,619.19 L136.05,600.3 Z" fill="#2c55a3"/></g>
<g><path d="M610.5,598.72 L612.47,625.9 L615.53,625.7 L613.9,598.49 Z" fill="#7b97cc"/><path d="M612.3,600.1 L609.28,591.19" stroke="#3a60ab" stroke-width="1.6" fill="none"/><circle cx="608" cy="587.4" r="4" fill="none" stroke="#3a60ab" stroke-width="1.6"/><path d="M612.3,600.1 L620.74,594.11" stroke="#3a60ab" stroke-width="1.6" fill="none"/><circle cx="624" cy="591.8" r="4" fill="none" stroke="#3a60ab" stroke-width="1.6"/><path d="M611.65,596.88 L595.52,618.01 L596.88,619.19 L615.57,600.3 Z" fill="#2c55a3"/></g>
<g><path d="M185.6,598.89 L184.07,625.5 L187.13,625.7 L188.99,599.11 Z" fill="#7b97cc"/><path d="M187.2,600.5 L185.52,591.33" stroke="#3a60ab" stroke-width="1.6" fill="none"/><circle cx="184.8" cy="587.4" r="4" fill="none" stroke="#3a60ab" stroke-width="1.6"/><path d="M187.2,600.5 L196.81,595.15" stroke="#3a60ab" stroke-width="1.6" fill="none"/><circle cx="200.3" cy="593.2" r="4" fill="none" stroke="#3a60ab" stroke-width="1.6"/><path d="M186.83,597.24 L168.97,616.85 L170.23,618.15 L190.44,600.98 Z" fill="#2c55a3"/></g>
<text x="15.5" y="781.8" font-family='"Liberation Sans", sans-serif' font-size="25" font-weight="normal" fill="#000" textLength="17" lengthAdjust="spacingAndGlyphs" stroke="#000" stroke-width="0.85">5'</text>
<text x="33.5" y="794.4" font-family='"Liberation Sans", sans-serif' font-size="16" font-weight="bold" fill="#000" textLength="9.8" lengthAdjust="spacingAndGlyphs" stroke="#000" stroke-width="0.5">P</text>
<path d="M38.9,774.6 L50.8,774.6 L50.8,748.7" fill="none" stroke="#0d0d0d" stroke-width="4" />
<path d="M50.8,748.7 A26,26 0 1,1 69.2,748.7" fill="none" stroke="#0d0d0d" stroke-width="4" />
<path d="M36.25,735.08 A26,26 0 0,1 39.24,708.85" fill="none" stroke="#3aa6dc" stroke-width="4.9" />
<path d="M69.2,748.7 L69.2,775.2 L77.8,775.2" fill="none" stroke="#f1ac2b" stroke-width="4" />
<path d="M76.34,776.4 L80.48,770.87 Q83,767.51 85.52,770.87 L93.81,781.93 Q96.33,785.29 98.84,781.93 L102.99,776.4" fill="none" stroke="#0d0d0d" stroke-width="4" stroke-linecap="butt" stroke-linejoin="round"/>
<path d="M102.99,776.4 L107.13,770.87 Q109.65,767.51 112.17,770.87 L120.46,781.93 Q122.98,785.29 125.49,781.93 L133.78,770.87 Q136.3,767.51 138.82,770.87 L147.11,781.93 Q149.62,785.29 152.14,781.93 L160.43,770.87 Q162.95,767.51 165.47,770.87 L173.76,781.93 Q176.27,785.29 178.79,781.93 L187.08,770.87 Q189.6,767.51 192.12,770.87 L200.41,781.93 Q202.93,785.29 205.44,781.93 L213.73,770.87 Q216.25,767.51 218.77,770.87 L227.06,781.93 Q229.57,785.29 232.09,781.93 L240.38,770.87 Q242.9,767.51 245.42,770.87 L253.71,781.93 Q256.22,785.29 258.74,781.93 L267.03,770.87 Q269.55,767.51 272.07,770.87 L280.36,781.93 Q282.88,785.29 285.39,781.93 L293.68,770.87 Q296.2,767.51 298.72,770.87 L307.01,781.93 Q309.53,785.29 312.04,781.93 L316.19,776.4" fill="none" stroke="#4e7733" stroke-width="4" stroke-linecap="butt" stroke-linejoin="round"/>
<path d="M316.19,776.4 L320.91,770.81 Q322.85,768.52 324.79,770.81 L334.24,781.99 Q336.18,784.28 338.1,781.98 L341,778.5 L341,713.4 A9.6,9.6 0 1,1 348.9,713.4 L348.9,778 L352.92,771.55 Q354.5,769 356.53,771.21 L365.77,781.29 Q367.8,783.5 369.84,781.3 L372.56,778.4 Q374.6,776.2 377.6,776.2 L386.5,776.2" fill="none" stroke="#0d0d0d" stroke-width="4" stroke-linejoin="round"/>
<text x="385.5" y="785" font-family='"Liberation Sans", sans-serif' font-size="24.5" font-weight="normal" fill="#000" textLength="18.5" lengthAdjust="spacingAndGlyphs" stroke="#000" stroke-width="0.85">3'</text>
<text x="29" y="818.4" font-family='"Liberation Sans", sans-serif' font-size="25" font-weight="normal" fill="#000" textLength="17" lengthAdjust="spacingAndGlyphs" stroke="#000" stroke-width="0.85">5'</text>
<text x="47.1" y="831" font-family='"Liberation Sans", sans-serif' font-size="16" font-weight="bold" fill="#000" textLength="9.8" lengthAdjust="spacingAndGlyphs" stroke="#000" stroke-width="0.5">P</text>
<path d="M51.3,811.8 L63.7,811.8 L63.7,798.3 A6.3,6.3 0 1,1 72.2,798.3 L72.2,812.4" fill="none" stroke="#0d0d0d" stroke-width="4" />
<path d="M72.2,806.5 L76.21,806.14 Q79.2,805.87 81.27,808.04 L90.36,817.56 Q92.43,819.73 94.5,817.56 L99.05,812.8" fill="none" stroke="#0d0d0d" stroke-width="4" stroke-linejoin="round"/>
<path d="M99.05,812.8 L102.97,808.09 Q105.66,804.86 108.35,808.09 L116.2,817.51 Q118.89,820.74 121.58,817.51 L129.43,808.09 Q132.12,804.86 134.81,808.09 L142.66,817.51 Q145.35,820.74 148.04,817.51 L151.97,812.8" fill="none" stroke="#f1ac2b" stroke-width="4" stroke-linecap="butt" stroke-linejoin="round"/>
<path d="M151.97,812.8 L155.89,808.09 Q158.58,804.86 161.27,808.09 L169.12,817.51 Q171.81,820.74 174.5,817.51 L178.43,812.8" fill="none" stroke="#0d0d0d" stroke-width="4" stroke-linecap="butt" stroke-linejoin="round"/>
<path d="M178.43,812.8 L182.35,808.09 Q185.04,804.86 187.73,808.09 L195.58,817.51 Q198.27,820.74 200.96,817.51 L208.81,808.09 Q211.5,804.86 214.19,808.09 L222.04,817.51 Q224.73,820.74 227.42,817.51 L235.27,808.09 Q237.96,804.86 240.65,808.09 L248.5,817.51 Q251.19,820.74 253.88,817.51 L261.73,808.09 Q264.42,804.86 267.11,808.09 L274.96,817.51 Q277.65,820.74 280.34,817.51 L288.19,808.09 Q290.88,804.86 293.57,808.09 L301.42,817.51 Q304.11,820.74 306.8,817.51 L314.65,808.09 Q317.34,804.86 320.03,808.09 L327.88,817.51 Q330.57,820.74 333.26,817.51 L341.11,808.09 Q343.8,804.86 346.49,808.09 L354.34,817.51 Q357.03,820.74 359.72,817.51 L367.57,808.09 Q370.26,804.86 372.95,808.09 L380.8,817.51 Q383.49,820.74 386.18,817.51 L390.11,812.8" fill="none" stroke="#4e7733" stroke-width="4" stroke-linecap="butt" stroke-linejoin="round"/>
<path d="M390.11,812.8 L394.65,808.04 Q396.72,805.87 398.79,808.04 L407.88,817.56 Q409.95,819.73 412.41,818.01 L416,815.5 L416,748 A9.6,9.6 0 1,1 423.8,748 L423.8,813.8 L427.16,807.63 Q428.6,805 430.6,807.24 L440,817.76 Q442,820 444,817.77 L447,814.43 Q449,812.2 452,812.2 L461,812.2" fill="none" stroke="#0d0d0d" stroke-width="4" stroke-linejoin="round"/>
<text x="460.3" y="820.8" font-family='"Liberation Sans", sans-serif' font-size="24.5" font-weight="normal" fill="#000" textLength="17.5" lengthAdjust="spacingAndGlyphs" stroke="#000" stroke-width="0.85">3'</text>
<path d="M498.2,787.7 L484.86,802.03 A20,20 0 1,0 483.18,774.54 Z" fill="#ee8e1b" stroke="#111" stroke-width="2.8" stroke-linejoin="miter"/>
<text x="548.4" y="792.9" font-family='"Liberation Sans", sans-serif' font-size="25" font-weight="normal" fill="#000" textLength="17" lengthAdjust="spacingAndGlyphs" stroke="#000" stroke-width="0.85">5'</text>
<text x="565.8" y="807" font-family='"Liberation Sans", sans-serif' font-size="16" font-weight="bold" fill="#000" textLength="9.8" lengthAdjust="spacingAndGlyphs" stroke="#000" stroke-width="0.5">P</text>
<path d="M571.04,781.65 L574.98,776.99 Q577.7,773.79 580.42,776.99 L588.31,786.31 Q591.02,789.51 593.74,786.31 L601.63,776.99 Q604.35,773.79 607.07,776.99 L614.96,786.31 Q617.67,789.51 620.39,786.31 L624.34,781.65" fill="none" stroke="#0d0d0d" stroke-width="4" stroke-linecap="butt" stroke-linejoin="round"/>
<path d="M624.34,781.65 L628.28,776.99 Q631,773.79 633.72,776.99 L641.61,786.31 Q644.32,789.51 647.04,786.31 L654.93,776.99 Q657.65,773.79 660.37,776.99 L668.26,786.31 Q670.97,789.51 673.69,786.31 L677.64,781.65" fill="none" stroke="#f1ac2b" stroke-width="4" stroke-linecap="butt" stroke-linejoin="round"/>
<path d="M677.64,781.65 L681.58,776.99 Q684.3,773.79 687.02,776.99 L694.91,786.31 Q697.62,789.51 700.34,786.31 L704.29,781.65" fill="none" stroke="#0d0d0d" stroke-width="4" stroke-linecap="butt" stroke-linejoin="round"/>
<path d="M704.29,781.65 L708.23,776.99 Q710.95,773.79 713.67,776.99 L721.56,786.31 Q724.27,789.51 726.99,786.31 L734.88,776.99 Q737.6,773.79 740.32,776.99 L748.21,786.31 Q750.92,789.51 753.64,786.31 L761.53,776.99 Q764.25,773.79 766.97,776.99 L774.86,786.31 Q777.57,789.51 780.29,786.31 L788.18,776.99 Q790.9,773.79 793.62,776.99 L801.51,786.31 Q804.22,789.51 806.94,786.31 L814.83,776.99 Q817.55,773.79 820.27,776.99 L828.16,786.31 Q830.88,789.51 833.59,786.31 L841.48,776.99 Q844.2,773.79 846.92,776.99 L854.81,786.31 Q857.52,789.51 860.24,786.31 L868.13,776.99 Q870.85,773.79 873.57,776.99 L881.46,786.31 Q884.17,789.51 886.89,786.31 L894.78,776.99 Q897.5,773.79 900.22,776.99 L908.11,786.31 Q910.82,789.51 913.54,786.31 L917.49,781.65" fill="none" stroke="#dd0017" stroke-width="4" stroke-linecap="butt" stroke-linejoin="round"/>
<path d="M917.49,781.65 L922.06,776.95 Q924.15,774.8 926.24,776.95 L935.38,786.35 Q937.47,788.5 939.99,786.86 L943.6,784.5 L943.6,745.3 A9,9 0 1,1 950.5,745.3 L950.5,782 L954.86,776.37 Q956.7,774 958.88,776.06 L968.22,784.94 Q970.4,787 972.53,784.89 L981.37,776.11 Q983.5,774 985.73,776 L995.77,785 Q998,787 1000.03,784.79 L1000.57,784.21 Q1002.6,782 1005.6,782 L1016.5,782" fill="none" stroke="#0d0d0d" stroke-width="4" stroke-linejoin="round"/>
<text x="1015.3" y="790.6" font-family='"Liberation Sans", sans-serif' font-size="24.5" font-weight="normal" fill="#000" textLength="18" lengthAdjust="spacingAndGlyphs" stroke="#000" stroke-width="0.85">3'</text>
<path d="M1048.5,777.9 L1035.86,792.23 A20,20 0 1,0 1034.18,764.74 Z" fill="#ee8e1b" stroke="#111" stroke-width="2.8" stroke-linejoin="miter"/>
<rect x="103.2" y="888.5" width="212.6" height="70" fill="#4e7733" stroke="#000" stroke-width="3"/>
<text x="166.7" y="933.7" font-family='"Liberation Sans", sans-serif' font-size="26.5" font-weight="bold" fill="#000" textLength="87.5" lengthAdjust="spacingAndGlyphs" >GeneA</text>
<text x="15" y="976.4" font-family='"Liberation Sans", sans-serif' font-size="25" font-weight="normal" fill="#000" textLength="17" lengthAdjust="spacingAndGlyphs" stroke="#000" stroke-width="0.85">5'</text>
<text x="32.6" y="988.5" font-family='"Liberation Sans", sans-serif' font-size="16" font-weight="bold" fill="#000" textLength="9.8" lengthAdjust="spacingAndGlyphs" stroke="#000" stroke-width="0.5">P</text>
<path d="M37.4,968 L51,968 L51,942.6" fill="none" stroke="#0d0d0d" stroke-width="4" />
<path d="M51,942.6 A26,26 0 1,1 68,942.6" fill="none" stroke="#0d0d0d" stroke-width="4" />
<path d="M36.54,930.21 A26,26 0 0,1 38.07,903.27" fill="none" stroke="#3aa6dc" stroke-width="4.9" />
<path d="M68,942.6 L68,968.6 L78.2,968.6" fill="none" stroke="#f1ac2b" stroke-width="4" />
<path d="M76.14,970.45 L80.08,965.79 Q82.8,962.59 85.52,965.79 L93.41,975.11 Q96.12,978.31 98.84,975.11 L102.79,970.45" fill="none" stroke="#0d0d0d" stroke-width="4" stroke-linecap="butt" stroke-linejoin="round"/>
<path d="M102.79,970.45 L106.73,965.79 Q109.45,962.59 112.17,965.79 L120.06,975.11 Q122.77,978.31 125.49,975.11 L133.38,965.79 Q136.1,962.59 138.82,965.79 L146.71,975.11 Q149.43,978.31 152.14,975.11 L160.03,965.79 Q162.75,962.59 165.47,965.79 L173.36,975.11 Q176.07,978.31 178.79,975.11 L186.68,965.79 Q189.4,962.59 192.12,965.79 L200.01,975.11 Q202.73,978.31 205.44,975.11 L213.33,965.79 Q216.05,962.59 218.77,965.79 L226.66,975.11 Q229.38,978.31 232.09,975.11 L239.98,965.79 Q242.7,962.59 245.42,965.79 L253.31,975.11 Q256.02,978.31 258.74,975.11 L266.63,965.79 Q269.35,962.59 272.07,965.79 L279.96,975.11 Q282.68,978.31 285.39,975.11 L293.28,965.79 Q296,962.59 298.72,965.79 L306.61,975.11 Q309.32,978.31 312.04,975.11 L315.99,970.45" fill="none" stroke="#4e7733" stroke-width="4" stroke-linecap="butt" stroke-linejoin="round"/>
<path d="M315.99,970.45 L320.56,965.75 Q322.65,963.6 324.74,965.75 L333.88,975.15 Q335.98,977.3 338.2,975.29 L341.3,972.5 L341.3,904.5 A9.2,9.2 0 1,1 347.9,904.5 L347.9,969 L359.5,969" fill="none" stroke="#0d0d0d" stroke-width="4" stroke-linejoin="round"/>
<text x="360.7" y="977.5" font-family='"Liberation Sans", sans-serif' font-size="24.5" font-weight="normal" fill="#000" textLength="18.5" lengthAdjust="spacingAndGlyphs" stroke="#000" stroke-width="0.85">3'</text>
<text x="28" y="1012.7" font-family='"Liberation Sans", sans-serif' font-size="25" font-weight="normal" fill="#000" textLength="17" lengthAdjust="spacingAndGlyphs" stroke="#000" stroke-width="0.85">5'</text>
<text x="45.6" y="1025.3" font-family='"Liberation Sans", sans-serif' font-size="16" font-weight="bold" fill="#000" textLength="9.8" lengthAdjust="spacingAndGlyphs" stroke="#000" stroke-width="0.5">P</text>
<path d="M51.6,1004.9 L63.5,1004.9 L63.5,992.4 A6.2,6.2 0 1,1 71.4,992.4 L71.4,1006" fill="none" stroke="#0d0d0d" stroke-width="4" />
<path d="M71.4,1000 L74.25,999.2 Q77.1,998.4 79.06,1000.62 L88.43,1011.25 Q90.41,1013.5 92.39,1011.25 L97.06,1005.95" fill="none" stroke="#0d0d0d" stroke-width="4" stroke-linejoin="round"/>
<path d="M97.06,1005.95 L101.14,1000.7 Q103.72,997.39 106.3,1000.7 L114.45,1011.2 Q117.03,1014.51 119.61,1011.2 L127.76,1000.7 Q130.34,997.39 132.92,1000.7 L141.07,1011.2 Q143.65,1014.51 146.23,1011.2 L150.31,1005.95" fill="none" stroke="#f1ac2b" stroke-width="4" stroke-linecap="butt" stroke-linejoin="round"/>
<path d="M150.31,1005.95 L154.38,1000.7 Q156.96,997.39 159.54,1000.7 L167.69,1011.2 Q170.27,1014.51 172.85,1011.2 L176.93,1005.95" fill="none" stroke="#0d0d0d" stroke-width="4" stroke-linecap="butt" stroke-linejoin="round"/>
<path d="M176.93,1005.95 L181,1000.7 Q183.58,997.39 186.16,1000.7 L194.31,1011.2 Q196.89,1014.51 199.47,1011.2 L207.62,1000.7 Q210.2,997.39 212.78,1000.7 L220.93,1011.2 Q223.51,1014.51 226.09,1011.2 L234.24,1000.7 Q236.82,997.39 239.4,1000.7 L247.55,1011.2 Q250.13,1014.51 252.71,1011.2 L260.86,1000.7 Q263.44,997.39 266.02,1000.7 L274.17,1011.2 Q276.75,1014.51 279.33,1011.2 L287.48,1000.7 Q290.06,997.39 292.64,1000.7 L300.79,1011.2 Q303.37,1014.51 305.95,1011.2 L314.1,1000.7 Q316.68,997.39 319.26,1000.7 L327.41,1011.2 Q329.99,1014.51 332.57,1011.2 L340.72,1000.7 Q343.3,997.39 345.88,1000.7 L354.03,1011.2 Q356.61,1014.51 359.19,1011.2 L367.34,1000.7 Q369.92,997.39 372.5,1000.7 L380.65,1011.2 Q383.23,1014.51 385.81,1011.2 L389.88,1005.95" fill="none" stroke="#4e7733" stroke-width="4" stroke-linecap="butt" stroke-linejoin="round"/>
<path d="M389.88,1005.95 L394.56,1000.65 Q396.54,998.4 398.52,1000.65 L407.87,1011.25 Q409.85,1013.5 412.16,1011.59 L415.3,1009 L415.3,941.2 A9.6,9.6 0 1,1 423.3,941.2 L423.3,1005 L434.2,1005" fill="none" stroke="#0d0d0d" stroke-width="4" stroke-linejoin="round"/>
<text x="433.2" y="1014.1" font-family='"Liberation Sans", sans-serif' font-size="24.5" font-weight="normal" fill="#000" textLength="18" lengthAdjust="spacingAndGlyphs" stroke="#000" stroke-width="0.85">3'</text>
<rect x="795.1" y="919.7" width="212.3" height="43.5" fill="#dd0017" stroke="#000" stroke-width="3"/>
<text x="851.5" y="951" font-family='"Liberation Sans", sans-serif' font-size="26.5" font-weight="bold" fill="#000" textLength="87" lengthAdjust="spacingAndGlyphs" >GeneB</text>
<text x="638.6" y="985.4" font-family='"Liberation Sans", sans-serif' font-size="25" font-weight="normal" fill="#000" textLength="17" lengthAdjust="spacingAndGlyphs" stroke="#000" stroke-width="0.85">5'</text>
<text x="657.1" y="997.8" font-family='"Liberation Sans", sans-serif' font-size="16" font-weight="bold" fill="#000" textLength="9.8" lengthAdjust="spacingAndGlyphs" stroke="#000" stroke-width="0.5">P</text>
<path d="M662.05,974.35 L666.11,969.15 Q668.7,965.84 671.29,969.15 L679.41,979.55 Q682,982.86 684.59,979.55 L692.71,969.15 Q695.3,965.84 697.89,969.15 L706.01,979.55 Q708.6,982.86 711.19,979.55 L715.25,974.35" fill="none" stroke="#0d0d0d" stroke-width="4" stroke-linecap="butt" stroke-linejoin="round"/>
<path d="M715.25,974.35 L719.31,969.15 Q721.9,965.84 724.49,969.15 L732.61,979.55 Q735.2,982.86 737.79,979.55 L745.91,969.15 Q748.5,965.84 751.09,969.15 L759.21,979.55 Q761.8,982.86 764.39,979.55 L768.45,974.35" fill="none" stroke="#f1ac2b" stroke-width="4" stroke-linecap="butt" stroke-linejoin="round"/>
<path d="M768.45,974.35 L772.51,969.15 Q775.1,965.84 777.69,969.15 L785.81,979.55 Q788.4,982.86 790.99,979.55 L795.05,974.35" fill="none" stroke="#0d0d0d" stroke-width="4" stroke-linecap="butt" stroke-linejoin="round"/>
<path d="M795.05,974.35 L799.11,969.15 Q801.7,965.84 804.29,969.15 L812.41,979.55 Q815,982.86 817.59,979.55 L825.71,969.15 Q828.3,965.84 830.89,969.15 L839.01,979.55 Q841.6,982.86 844.19,979.55 L852.31,969.15 Q854.9,965.84 857.49,969.15 L865.61,979.55 Q868.2,982.86 870.79,979.55 L878.91,969.15 Q881.5,965.84 884.09,969.15 L892.21,979.55 Q894.8,982.86 897.39,979.55 L905.51,969.15 Q908.1,965.84 910.69,969.15 L918.81,979.55 Q921.4,982.86 923.99,979.55 L932.11,969.15 Q934.7,965.84 937.29,969.15 L945.41,979.55 Q948,982.86 950.59,979.55 L958.71,969.15 Q961.3,965.84 963.89,969.15 L972.01,979.55 Q974.6,982.86 977.19,979.55 L985.31,969.15 Q987.9,965.84 990.49,969.15 L998.61,979.55 Q1001.2,982.86 1003.79,979.55 L1007.85,974.35" fill="none" stroke="#dd0017" stroke-width="4" stroke-linecap="butt" stroke-linejoin="round"/>
<path d="M1007.85,974.35 L1012.51,969.09 Q1014.5,966.85 1016.49,969.09 L1025.81,979.61 Q1027.8,981.85 1030.16,980 L1034,977 L1034,936.4 A9.2,9.2 0 1,1 1040.7,936.4 L1040.7,973 L1051,973" fill="none" stroke="#0d0d0d" stroke-width="4" stroke-linejoin="round"/>
<text x="1050.7" y="981.2" font-family='"Liberation Sans", sans-serif' font-size="24.5" font-weight="normal" fill="#000" textLength="18" lengthAdjust="spacingAndGlyphs" stroke="#000" stroke-width="0.85">3'</text>
<text x="16.5" y="1178.1" font-family='"Liberation Sans", sans-serif' font-size="25" font-weight="normal" fill="#000" textLength="17" lengthAdjust="spacingAndGlyphs" stroke="#000" stroke-width="0.85">5'</text>
<text x="33.9" y="1190.6" font-family='"Liberation Sans", sans-serif' font-size="16" font-weight="bold" fill="#000" textLength="9.8" lengthAdjust="spacingAndGlyphs" stroke="#000" stroke-width="0.5">P</text>
<path d="M38.7,1171 L51.6,1171 L51.6,1159 A7,7 0 1,1 59.3,1159 L59.3,1172" fill="none" stroke="#0d0d0d" stroke-width="4" />
<path d="M59.3,1166 L61.9,1165.3 Q64.5,1164.6 66.38,1166.53 L75.74,1176.15 Q77.83,1178.3 79.92,1176.15 L84.5,1171.45" fill="none" stroke="#0d0d0d" stroke-width="4" stroke-linejoin="round"/>
<path d="M84.5,1171.45 L88.44,1166.79 Q91.16,1163.59 93.88,1166.79 L101.77,1176.11 Q104.49,1179.31 107.21,1176.11 L115.1,1166.79 Q117.82,1163.59 120.54,1166.79 L128.43,1176.11 Q131.15,1179.31 133.87,1176.11 L137.81,1171.45" fill="none" stroke="#f1ac2b" stroke-width="4" stroke-linecap="butt" stroke-linejoin="round"/>
<path d="M137.81,1171.45 L141.76,1166.79 Q144.48,1163.59 147.2,1166.79 L155.09,1176.11 Q157.81,1179.31 160.53,1176.11 L164.48,1171.45" fill="none" stroke="#0d0d0d" stroke-width="4" stroke-linecap="butt" stroke-linejoin="round"/>
<path d="M164.48,1171.45 L168.42,1166.79 Q171.14,1163.59 173.86,1166.79 L181.75,1176.11 Q184.47,1179.31 187.19,1176.11 L195.08,1166.79 Q197.8,1163.59 200.52,1166.79 L208.41,1176.11 Q211.13,1179.31 213.85,1176.11 L221.74,1166.79 Q224.46,1163.59 227.18,1166.79 L235.07,1176.11 Q237.79,1179.31 240.51,1176.11 L248.4,1166.79 Q251.12,1163.59 253.84,1166.79 L261.73,1176.11 Q264.45,1179.31 267.17,1176.11 L275.06,1166.79 Q277.78,1163.59 280.5,1166.79 L288.39,1176.11 Q291.11,1179.31 293.83,1176.11 L301.72,1166.79 Q304.44,1163.59 307.16,1166.79 L315.05,1176.11 Q317.77,1179.31 320.49,1176.11 L328.38,1166.79 Q331.1,1163.59 333.82,1166.79 L341.71,1176.11 Q344.43,1179.31 347.15,1176.11 L355.04,1166.79 Q357.76,1163.59 360.48,1166.79 L368.37,1176.11 Q371.09,1179.31 373.81,1176.11 L377.75,1171.45" fill="none" stroke="#4e7733" stroke-width="4" stroke-linecap="butt" stroke-linejoin="round"/>
<path d="M377.75,1171.45 L382.33,1166.75 Q384.42,1164.6 386.51,1166.75 L395.66,1176.15 Q397.75,1178.3 400.21,1176.58 L403.2,1174.5 L403.2,1108.3 A9.2,9.2 0 1,1 409.4,1108.3 L409.4,1171.6 L421.6,1171.6" fill="none" stroke="#0d0d0d" stroke-width="4" stroke-linejoin="round"/>
<text x="421" y="1179.5" font-family='"Liberation Sans", sans-serif' font-size="24.5" font-weight="normal" fill="#000" textLength="18" lengthAdjust="spacingAndGlyphs" stroke="#000" stroke-width="0.85">3'</text>
<ellipse cx="110.8" cy="1173.55" rx="20" ry="10.4" fill="#548cc7" stroke="#111" stroke-width="1.3"/>
<ellipse cx="110.8" cy="1166.65" rx="16.5" ry="6.3" fill="#548cc7" stroke="#111" stroke-width="1.3"/>
<path d="M95.5,1169.5 C108,1172 120,1170.5 128,1165.5" fill="none" stroke="#27508f" stroke-width="2.4" stroke-linecap="butt" stroke-linejoin="round"/>
<ellipse cx="210" cy="1175.05" rx="20" ry="10.4" fill="#548cc7" stroke="#111" stroke-width="1.3"/>
<ellipse cx="210" cy="1168.15" rx="16.5" ry="6.3" fill="#548cc7" stroke="#111" stroke-width="1.3"/>
<ellipse cx="304.5" cy="1175.05" rx="20" ry="10.4" fill="#548cc7" stroke="#111" stroke-width="1.3"/>
<ellipse cx="304.5" cy="1168.15" rx="16.5" ry="6.3" fill="#548cc7" stroke="#111" stroke-width="1.3"/>
<path d="M198.2,1172.8 C210,1175.5 220,1174.5 225,1166 L240.5,1138 C243,1133 245,1132 250,1131.9 L268.2,1132.4" fill="none" stroke="#27508f" stroke-width="2.4" stroke-linecap="butt" stroke-linejoin="round"/>
<path d="M291.4,1172 C303,1175 312,1174 316,1166 L327.5,1143 C330,1138 332,1137.4 337,1137.6 L362,1141.2 C369,1142 372,1139.5 375,1134 L380.3,1123.6" fill="none" stroke="#27508f" stroke-width="2.4" stroke-linecap="butt" stroke-linejoin="round"/>
<text x="641.8" y="1177.1" font-family='"Liberation Sans", sans-serif' font-size="25" font-weight="normal" fill="#000" textLength="17" lengthAdjust="spacingAndGlyphs" stroke="#000" stroke-width="0.85">5'</text>
<text x="659.5" y="1190.4" font-family='"Liberation Sans", sans-serif' font-size="16" font-weight="bold" fill="#000" textLength="9.8" lengthAdjust="spacingAndGlyphs" stroke="#000" stroke-width="0.5">P</text>
<path d="M665.25,1165.45 L669.19,1160.79 Q671.9,1157.59 674.61,1160.79 L682.49,1170.11 Q685.2,1173.31 687.91,1170.11 L695.79,1160.79 Q698.5,1157.59 701.21,1160.79 L709.09,1170.11 Q711.8,1173.31 714.51,1170.11 L718.45,1165.45" fill="none" stroke="#0d0d0d" stroke-width="4" stroke-linecap="butt" stroke-linejoin="round"/>
<path d="M718.45,1165.45 L722.39,1160.79 Q725.1,1157.59 727.81,1160.79 L735.69,1170.11 Q738.4,1173.31 741.11,1170.11 L748.99,1160.79 Q751.7,1157.59 754.41,1160.79 L762.29,1170.11 Q765,1173.31 767.71,1170.11 L771.65,1165.45" fill="none" stroke="#f1ac2b" stroke-width="4" stroke-linecap="butt" stroke-linejoin="round"/>
<path d="M771.65,1165.45 L775.59,1160.79 Q778.3,1157.59 781.01,1160.79 L788.89,1170.11 Q791.6,1173.31 794.31,1170.11 L798.25,1165.45" fill="none" stroke="#0d0d0d" stroke-width="4" stroke-linecap="butt" stroke-linejoin="round"/>
<path d="M798.25,1165.45 L802.19,1160.79 Q804.9,1157.59 807.61,1160.79 L815.49,1170.11 Q818.2,1173.31 820.91,1170.11 L828.79,1160.79 Q831.5,1157.59 834.21,1160.79 L842.09,1170.11 Q844.8,1173.31 847.51,1170.11 L855.39,1160.79 Q858.1,1157.59 860.81,1160.79 L868.69,1170.11 Q871.4,1173.31 874.11,1170.11 L881.99,1160.79 Q884.7,1157.59 887.41,1160.79 L895.29,1170.11 Q898,1173.31 900.71,1170.11 L908.59,1160.79 Q911.3,1157.59 914.01,1160.79 L921.89,1170.11 Q924.6,1173.31 927.31,1170.11 L935.19,1160.79 Q937.9,1157.59 940.61,1160.79 L948.49,1170.11 Q951.2,1173.31 953.91,1170.11 L961.79,1160.79 Q964.5,1157.59 967.21,1160.79 L975.09,1170.11 Q977.8,1173.31 980.51,1170.11 L988.39,1160.79 Q991.1,1157.59 993.81,1160.79 L1001.69,1170.11 Q1004.4,1173.31 1007.11,1170.11 L1011.05,1165.45" fill="none" stroke="#dd0017" stroke-width="4" stroke-linecap="butt" stroke-linejoin="round"/>
<path d="M1011.05,1165.45 L1015.61,1160.75 Q1017.7,1158.6 1019.79,1160.75 L1028.91,1170.15 Q1031,1172.3 1033.36,1170.45 L1036.5,1168 L1036.5,1115 A9.6,9.6 0 1,1 1046.3,1115 L1046.3,1165.2 L1055,1165.2" fill="none" stroke="#0d0d0d" stroke-width="4" stroke-linejoin="round"/>
<text x="1054.7" y="1173.8" font-family='"Liberation Sans", sans-serif' font-size="24.5" font-weight="normal" fill="#000" textLength="18.5" lengthAdjust="spacingAndGlyphs" stroke="#000" stroke-width="0.85">3'</text>
<ellipse cx="748" cy="1165.41" rx="19.2" ry="9.98" fill="#548cc7" stroke="#111" stroke-width="1.3"/>
<ellipse cx="748" cy="1158.78" rx="15.84" ry="6.05" fill="#548cc7" stroke="#111" stroke-width="1.3"/>
<ellipse cx="850" cy="1166.91" rx="19.2" ry="9.98" fill="#548cc7" stroke="#111" stroke-width="1.3"/>
<ellipse cx="850" cy="1160.28" rx="15.84" ry="6.05" fill="#548cc7" stroke="#111" stroke-width="1.3"/>
<ellipse cx="933.4" cy="1166.91" rx="19.2" ry="9.98" fill="#548cc7" stroke="#111" stroke-width="1.3"/>
<ellipse cx="933.4" cy="1160.28" rx="15.84" ry="6.05" fill="#548cc7" stroke="#111" stroke-width="1.3"/>
<path d="M733,1162 C745,1164.5 757,1163 765,1158" fill="none" stroke="#27508f" stroke-width="2.4" stroke-linecap="butt" stroke-linejoin="round"/>
<path d="M838,1166.5 C850,1169 860,1168 865,1161 L885.5,1128.5 C888,1124.5 890,1123.8 894,1123.8 L908.1,1124.8" fill="none" stroke="#27508f" stroke-width="2.4" stroke-linecap="butt" stroke-linejoin="round"/>
<path d="M921,1166.5 C933,1169 940,1168 944,1162 L957.5,1133 C959.5,1129.8 961,1129.6 965,1129.6 L993,1134 C999,1134.8 1002,1133 1004.5,1127.5 L1009.3,1116.1" fill="none" stroke="#27508f" stroke-width="2.4" stroke-linecap="butt" stroke-linejoin="round"/>
<text x="17.2" y="1299.7" font-family='"Liberation Sans", sans-serif' font-size="25" font-weight="normal" fill="#000" textLength="17" lengthAdjust="spacingAndGlyphs" stroke="#000" stroke-width="0.85">5'</text>
<text x="34.1" y="1312.8" font-family='"Liberation Sans", sans-serif' font-size="16" font-weight="bold" fill="#000" textLength="9.8" lengthAdjust="spacingAndGlyphs" stroke="#000" stroke-width="0.5">P</text>
<path d="M38.9,1291.4 L51.3,1291.4 L51.3,1264.9" fill="none" stroke="#0d0d0d" stroke-width="4" />
<path d="M51.3,1264.9 A26.3,26.3 0 1,1 70.5,1264.9" fill="none" stroke="#0d0d0d" stroke-width="4" />
<path d="M37.9,1252.75 A26.3,26.3 0 0,1 39.36,1224.91" fill="none" stroke="#3aa6dc" stroke-width="4.9" />
<path d="M70.5,1264.9 L70.5,1280.1" fill="none" stroke="#f1ac2b" stroke-width="4" />
<path d="M70.5,1280.1 L70.5,1292.5 L79,1292.5" fill="none" stroke="#4f8fca" stroke-width="4" />
<path d="M77.8,1292.95 L81.95,1287.85 Q84.6,1284.59 87.25,1287.85 L95.55,1298.05 Q98.2,1301.31 100.85,1298.05 L105,1292.95" fill="none" stroke="#0d0d0d" stroke-width="4" stroke-linecap="butt" stroke-linejoin="round"/>
<path d="M105,1292.95 L109.15,1287.85 Q111.8,1284.59 114.45,1287.85 L122.75,1298.05 Q125.4,1301.31 128.05,1298.05 L136.35,1287.85 Q139,1284.59 141.65,1287.85 L149.95,1298.05 Q152.6,1301.31 155.25,1298.05 L163.55,1287.85 Q166.2,1284.59 168.85,1287.85 L177.15,1298.05 Q179.8,1301.31 182.45,1298.05 L190.75,1287.85 Q193.4,1284.59 196.05,1287.85 L204.35,1298.05 Q207,1301.31 209.65,1298.05 L217.95,1287.85 Q220.6,1284.59 223.25,1287.85 L231.55,1298.05 Q234.2,1301.31 236.85,1298.05 L245.15,1287.85 Q247.8,1284.59 250.45,1287.85 L258.75,1298.05 Q261.4,1301.31 264.05,1298.05 L272.35,1287.85 Q275,1284.59 277.65,1287.85 L285.95,1298.05 Q288.6,1301.31 291.25,1298.05 L299.55,1287.85 Q302.2,1284.59 304.85,1287.85 L313.15,1298.05 Q315.8,1301.31 318.45,1298.05 L322.6,1292.95" fill="none" stroke="#4e7733" stroke-width="4" stroke-linecap="butt" stroke-linejoin="round"/>
<path d="M322.6,1292.95 L327.36,1287.8 Q329.4,1285.6 331.44,1287.8 L340.96,1298.1 Q343,1300.3 345.28,1298.35 L348.6,1295.5 L348.6,1229.3 A9.4,9.4 0 1,1 354.8,1229.3 L354.8,1292.4 L367.4,1292.4" fill="none" stroke="#0d0d0d" stroke-width="4" stroke-linejoin="round"/>
<text x="366.8" y="1301.6" font-family='"Liberation Sans", sans-serif' font-size="24.5" font-weight="normal" fill="#000" textLength="19" lengthAdjust="spacingAndGlyphs" stroke="#000" stroke-width="0.85">3'</text>
<ellipse cx="208.7" cy="1296.55" rx="20" ry="10.4" fill="#548cc7" stroke="#111" stroke-width="1.3"/>
<ellipse cx="208.7" cy="1289.65" rx="16.5" ry="6.3" fill="#548cc7" stroke="#111" stroke-width="1.3"/>
<path d="M196.7,1294.3 C209,1297 218,1296 223.5,1289.5 L241,1259.5 C243,1254.5 245,1252.4 250,1252.4 L267.9,1253.4" fill="none" stroke="#27508f" stroke-width="2.4" stroke-linecap="butt" stroke-linejoin="round"/>
<g transform="translate(599.9,1281.2) scale(0.78) translate(-22.2,-343.5)"><path d="M21.4,342.2 L39.3,326.6 L42.2,330.4 L24.4,345.2 Q22,345.8 21.4,342.2 Z" fill="#b0481d"/><path d="M39.2,329 L39.2,324.4 Q39.2,322.2 40.77,320.66 L44.34,317.15 Q45.5,316 46.95,315.25 L46.95,315.25 Q48.4,314.5 50.03,314.62 L53.47,314.88 Q55.1,315 55.85,316.45 L55.85,316.45 Q56.6,317.9 58.03,318.68 L59.97,319.74 Q61.9,320.8 64.06,320.37 L65.74,320.03 Q67.9,319.6 68.41,321.74 L68.69,322.96 Q69.2,325.1 68.84,327.27 L68.26,330.73 Q67.9,332.9 66.76,334.78 L64.94,337.82 Q63.8,339.7 61.74,340.48 L58.16,341.82 Q56.1,342.6 53.94,342.2 L47.85,341.07 Q46.4,340.8 45.7,339.5 L45.7,339.5 Q45,338.2 44.66,336.76 L43.9,333.59 Q43.5,331.9 42.05,330.95 L41.32,330.47 Q40.6,330 39.9,329.5 L39.2,329 Z" fill="#b0481d"/><path d="M66.2,322.8 Q67.6,331 62.6,337.8 Q57.5,341.6 48.2,339.6" stroke="#f3d6c8" stroke-width="0.9" fill="none" opacity="0.8"/></g>
<g transform="translate(22.2,343.5) scale(1) translate(-22.2,-343.5)"><path d="M21.4,342.2 L39.3,326.6 L42.2,330.4 L24.4,345.2 Q22,345.8 21.4,342.2 Z" fill="#b0481d"/><path d="M39.2,329 L39.2,324.4 Q39.2,322.2 40.77,320.66 L44.34,317.15 Q45.5,316 46.95,315.25 L46.95,315.25 Q48.4,314.5 50.03,314.62 L53.47,314.88 Q55.1,315 55.85,316.45 L55.85,316.45 Q56.6,317.9 58.03,318.68 L59.97,319.74 Q61.9,320.8 64.06,320.37 L65.74,320.03 Q67.9,319.6 68.41,321.74 L68.69,322.96 Q69.2,325.1 68.84,327.27 L68.26,330.73 Q67.9,332.9 66.76,334.78 L64.94,337.82 Q63.8,339.7 61.74,340.48 L58.16,341.82 Q56.1,342.6 53.94,342.2 L47.85,341.07 Q46.4,340.8 45.7,339.5 L45.7,339.5 Q45,338.2 44.66,336.76 L43.9,333.59 Q43.5,331.9 42.05,330.95 L41.32,330.47 Q40.6,330 39.9,329.5 L39.2,329 Z" fill="#b0481d"/><path d="M66.2,322.8 Q67.6,331 62.6,337.8 Q57.5,341.6 48.2,339.6" stroke="#f3d6c8" stroke-width="0.9" fill="none" opacity="0.8"/></g>
<rect x="12.9" y="1354.7" width="55.8" height="20" fill="#3aa6dc" stroke="none" stroke-width="0"/>
<text x="74.8" y="1374.7" font-family='"Liberation Sans", sans-serif' font-size="27.5" font-weight="bold" fill="#000" textLength="319" lengthAdjust="spacingAndGlyphs" >RNase E cleavage sites</text>
<rect x="12.9" y="1399.4" width="55.8" height="20.3" fill="#f1ac2b" stroke="none" stroke-width="0"/>
<text x="74.8" y="1422" font-family='"Liberation Sans", sans-serif' font-size="27.5" font-weight="bold" fill="#000" textLength="325" lengthAdjust="spacingAndGlyphs" >Ribosome binding sites</text>
<rect x="13.05" y="1456.45" width="55.1" height="20.2" fill="#cbb78c" stroke="#000" stroke-width="2.5"/>
<text x="74.8" y="1475.5" font-family='"Liberation Sans", sans-serif' font-size="27.5" font-weight="bold" fill="#000" textLength="152.5" lengthAdjust="spacingAndGlyphs" >5'-Pi mRNA</text>
<rect x="253.35" y="1457.15" width="54" height="19.8" fill="#4e7733" stroke="#000" stroke-width="2.5"/>
<text x="311.7" y="1475.5" font-family='"Liberation Sans", sans-serif' font-size="27.5" font-weight="bold" fill="#000" textLength="92" lengthAdjust="spacingAndGlyphs" >GeneA</text>
<rect x="426.25" y="1457.45" width="54.5" height="20" fill="#dd0017" stroke="#000" stroke-width="2.5"/>
<text x="484.2" y="1473.7" font-family='"Liberation Sans", sans-serif' font-size="26.5" font-weight="bold" fill="#000" textLength="91.5" lengthAdjust="spacingAndGlyphs" >GeneB</text>
<text x="592" y="1476.8" font-family='"Liberation Sans", sans-serif' font-size="26.5" font-weight="normal" fill="#000" textLength="628" lengthAdjust="spacingAndGlyphs" >* The height represents the transcript abundance.</text>
<text x="666.6" y="1281.3" font-family='"Liberation Sans", sans-serif' font-size="28" font-weight="bold" fill="#000" textLength="75.5" lengthAdjust="spacingAndGlyphs" >RppH</text>
<text x="666.6" y="1327" font-family='"Liberation Sans", sans-serif' font-size="28" font-weight="bold" fill="#000" textLength="115.5" lengthAdjust="spacingAndGlyphs" >RNase E</text>
<text x="666.6" y="1374.7" font-family='"Liberation Sans", sans-serif' font-size="28" font-weight="bold" fill="#000" textLength="283" lengthAdjust="spacingAndGlyphs" >3&#8217; -&gt; 5&#8217; exonucleases</text>
<text x="666.6" y="1422.1" font-family='"Liberation Sans", sans-serif' font-size="28" font-weight="bold" fill="#000" textLength="139" lengthAdjust="spacingAndGlyphs" >Ribosome</text>
<path d="M618.7,1365 L604.05,1379.24 A20.5,20.5 0 1,0 604.05,1350.76 Z" fill="#787878" stroke="#111" stroke-width="2.8" stroke-linejoin="miter"/>
<ellipse cx="623.2" cy="1418" rx="21" ry="8.2" fill="#548cc7" stroke="#111" stroke-width="1.6"/>
<ellipse cx="623.7" cy="1409" rx="17" ry="6.2" fill="#548cc7" stroke="#111" stroke-width="1.6"/>
<g><path d="M616.13,1316.18 L614.66,1336.28 L617.54,1336.52 L619.32,1316.43 Z" fill="#dfae4c"/><path d="M617.6,1317.8 L617.84,1306.5" stroke="#d69f32" stroke-width="1.7" fill="none"/><circle cx="617.9" cy="1303.4" r="3.1" fill="none" stroke="#d69f32" stroke-width="1.7"/><path d="M617.6,1317.8 L626.15,1309.73" stroke="#d69f32" stroke-width="1.7" fill="none"/><circle cx="628.4" cy="1307.6" r="3.1" fill="none" stroke="#d69f32" stroke-width="1.7"/><path d="M617.75,1314.76 L601.44,1329.39 L602.56,1330.81 L620.59,1318.37 Z" fill="#d39a2c"/></g>
<circle cx="40.3" cy="212.6" r="4.6" fill="#b4511f" stroke="#111" stroke-width="1.8"/>
<circle cx="51.2" cy="212.6" r="4.6" fill="#b4511f" stroke="#111" stroke-width="1.8"/>
<circle cx="61.3" cy="212.6" r="4.6" fill="#b4511f" stroke="#111" stroke-width="1.8"/>
<circle cx="40.3" cy="357.5" r="4.6" fill="#b4511f" stroke="#111" stroke-width="1.8"/>
<circle cx="51.2" cy="357.5" r="4.6" fill="#b4511f" stroke="#111" stroke-width="1.8"/>
<circle cx="61.3" cy="357.5" r="4.6" fill="#b4511f" stroke="#111" stroke-width="1.8"/>
<circle cx="28.4" cy="444.4" r="4.3" fill="#b4511f" stroke="#111" stroke-width="2"/>
<circle cx="38" cy="444.4" r="4.3" fill="#b4511f" stroke="#111" stroke-width="2"/>
<circle cx="52.9" cy="444.4" r="4.3" fill="#b4511f" stroke="#111" stroke-width="2"/>
<circle cx="62.5" cy="444.4" r="4.3" fill="#b4511f" stroke="#111" stroke-width="2"/>
<circle cx="78" cy="444.6" r="4.3" fill="#b4511f" stroke="#111" stroke-width="2"/>
<circle cx="88.3" cy="444.6" r="4.3" fill="#b4511f" stroke="#111" stroke-width="2"/>
<circle cx="396.8" cy="449.6" r="4.3" fill="#b4511f" stroke="#111" stroke-width="2"/>
<circle cx="406.5" cy="449.6" r="4.3" fill="#b4511f" stroke="#111" stroke-width="2"/>
<circle cx="423.2" cy="450" r="4.3" fill="#b4511f" stroke="#111" stroke-width="2"/>
<circle cx="432.7" cy="450" r="4.3" fill="#b4511f" stroke="#111" stroke-width="2"/>
<circle cx="773.5" cy="449.5" r="4.3" fill="#b4511f" stroke="#111" stroke-width="2"/>
<circle cx="783.7" cy="449.5" r="4.3" fill="#b4511f" stroke="#111" stroke-width="2"/>
<circle cx="94.8" cy="484.8" r="4.4" fill="#b4511f" stroke="#111" stroke-width="1.8"/>
<circle cx="439.2" cy="489.5" r="4.4" fill="#b4511f" stroke="#111" stroke-width="1.8"/>
<circle cx="790" cy="488.7" r="4.4" fill="#b4511f" stroke="#111" stroke-width="1.8"/>
<circle cx="17.5" cy="584.7" r="5" fill="#b4511f" stroke="#111" stroke-width="1.8"/>
<circle cx="28.8" cy="584.7" r="5" fill="#b4511f" stroke="#111" stroke-width="1.8"/>
<circle cx="54.2" cy="632" r="4.6" fill="#b4511f" stroke="#111" stroke-width="1.8"/>
<circle cx="38.9" cy="774" r="4.8" fill="#b4511f" stroke="#111" stroke-width="1.8"/>
<circle cx="51.3" cy="811.3" r="4.8" fill="#b4511f" stroke="#111" stroke-width="1.8"/>
<circle cx="571.9" cy="785.8" r="4.8" fill="#b4511f" stroke="#111" stroke-width="1.8"/>
<circle cx="37.4" cy="967.5" r="4.8" fill="#b4511f" stroke="#111" stroke-width="1.8"/>
<circle cx="51.6" cy="1004.4" r="4.8" fill="#b4511f" stroke="#111" stroke-width="1.8"/>
<circle cx="662.2" cy="977.7" r="4.8" fill="#b4511f" stroke="#111" stroke-width="1.8"/>
<circle cx="38.7" cy="1170" r="4.8" fill="#b4511f" stroke="#111" stroke-width="1.8"/>
<circle cx="664.6" cy="1170.3" r="4.8" fill="#b4511f" stroke="#111" stroke-width="1.8"/>
<circle cx="38.9" cy="1290.8" r="4.8" fill="#b4511f" stroke="#111" stroke-width="1.8"/></svg></body></html>
